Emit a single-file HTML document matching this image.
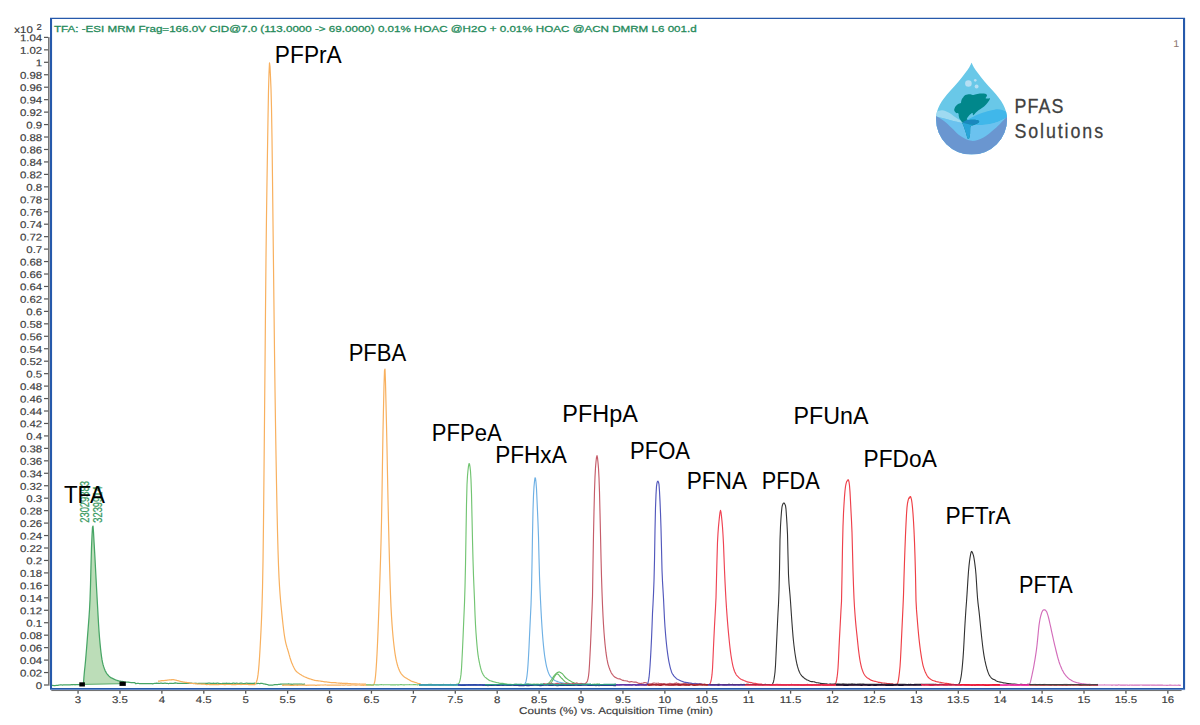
<!DOCTYPE html>
<html><head><meta charset="utf-8"><title>Chromatogram</title>
<style>html,body{margin:0;padding:0;background:#fff;overflow:hidden}svg{display:block}text{font-family:"Liberation Sans",sans-serif}</style></head>
<body><svg width="1200" height="725" viewBox="0 0 1200 725">
<rect x="0" y="0" width="1200" height="725" fill="#fff"/>
<rect x="48.0" y="37.2" width="1.65" height="648.4" fill="#777"/><rect x="49.6" y="37.2" width="0.5" height="648.4" fill="#b4b8c4"/>
<rect x="50" y="689.3" width="1135.1" height="0.8" fill="#6f9cd8"/><rect x="51.3" y="690.05" width="1130.3" height="1.0" fill="#6e6e6e"/>
<path d="M50 17.7H1185.1V689.4H50Z M52.07 19.1V687.9H1183V19.1Z" fill="#2659ab" fill-rule="evenodd"/>
<rect x="44" y="684.40" width="4.2" height="1.2" fill="#555"/>
<rect x="44" y="671.95" width="4.2" height="1.2" fill="#555"/>
<rect x="44" y="659.49" width="4.2" height="1.2" fill="#555"/>
<rect x="44" y="647.04" width="4.2" height="1.2" fill="#555"/>
<rect x="44" y="634.58" width="4.2" height="1.2" fill="#555"/>
<rect x="44" y="622.13" width="4.2" height="1.2" fill="#555"/>
<rect x="44" y="609.68" width="4.2" height="1.2" fill="#555"/>
<rect x="44" y="597.22" width="4.2" height="1.2" fill="#555"/>
<rect x="44" y="584.77" width="4.2" height="1.2" fill="#555"/>
<rect x="44" y="572.31" width="4.2" height="1.2" fill="#555"/>
<rect x="44" y="559.86" width="4.2" height="1.2" fill="#555"/>
<rect x="44" y="547.41" width="4.2" height="1.2" fill="#555"/>
<rect x="44" y="534.95" width="4.2" height="1.2" fill="#555"/>
<rect x="44" y="522.50" width="4.2" height="1.2" fill="#555"/>
<rect x="44" y="510.04" width="4.2" height="1.2" fill="#555"/>
<rect x="44" y="497.59" width="4.2" height="1.2" fill="#555"/>
<rect x="44" y="485.14" width="4.2" height="1.2" fill="#555"/>
<rect x="44" y="472.68" width="4.2" height="1.2" fill="#555"/>
<rect x="44" y="460.23" width="4.2" height="1.2" fill="#555"/>
<rect x="44" y="447.77" width="4.2" height="1.2" fill="#555"/>
<rect x="44" y="435.32" width="4.2" height="1.2" fill="#555"/>
<rect x="44" y="422.87" width="4.2" height="1.2" fill="#555"/>
<rect x="44" y="410.41" width="4.2" height="1.2" fill="#555"/>
<rect x="44" y="397.96" width="4.2" height="1.2" fill="#555"/>
<rect x="44" y="385.50" width="4.2" height="1.2" fill="#555"/>
<rect x="44" y="373.05" width="4.2" height="1.2" fill="#555"/>
<rect x="44" y="360.60" width="4.2" height="1.2" fill="#555"/>
<rect x="44" y="348.14" width="4.2" height="1.2" fill="#555"/>
<rect x="44" y="335.69" width="4.2" height="1.2" fill="#555"/>
<rect x="44" y="323.23" width="4.2" height="1.2" fill="#555"/>
<rect x="44" y="310.78" width="4.2" height="1.2" fill="#555"/>
<rect x="44" y="298.33" width="4.2" height="1.2" fill="#555"/>
<rect x="44" y="285.87" width="4.2" height="1.2" fill="#555"/>
<rect x="44" y="273.42" width="4.2" height="1.2" fill="#555"/>
<rect x="44" y="260.96" width="4.2" height="1.2" fill="#555"/>
<rect x="44" y="248.51" width="4.2" height="1.2" fill="#555"/>
<rect x="44" y="236.06" width="4.2" height="1.2" fill="#555"/>
<rect x="44" y="223.60" width="4.2" height="1.2" fill="#555"/>
<rect x="44" y="211.15" width="4.2" height="1.2" fill="#555"/>
<rect x="44" y="198.69" width="4.2" height="1.2" fill="#555"/>
<rect x="44" y="186.24" width="4.2" height="1.2" fill="#555"/>
<rect x="44" y="173.79" width="4.2" height="1.2" fill="#555"/>
<rect x="44" y="161.33" width="4.2" height="1.2" fill="#555"/>
<rect x="44" y="148.88" width="4.2" height="1.2" fill="#555"/>
<rect x="44" y="136.42" width="4.2" height="1.2" fill="#555"/>
<rect x="44" y="123.97" width="4.2" height="1.2" fill="#555"/>
<rect x="44" y="111.52" width="4.2" height="1.2" fill="#555"/>
<rect x="44" y="99.06" width="4.2" height="1.2" fill="#555"/>
<rect x="44" y="86.61" width="4.2" height="1.2" fill="#555"/>
<rect x="44" y="74.15" width="4.2" height="1.2" fill="#555"/>
<rect x="44" y="61.70" width="4.2" height="1.2" fill="#555"/>
<rect x="44" y="49.25" width="4.2" height="1.2" fill="#555"/>
<rect x="44" y="36.79" width="4.2" height="1.2" fill="#555"/>
<g font-size="9.8" fill="#3a3a3a" stroke="#3a3a3a" stroke-width="0.15"><text transform="translate(42.2 688.90) rotate(0.03) scale(1.17 1)" text-anchor="end">0</text><text transform="translate(42.2 676.45) rotate(0.03) scale(1.17 1)" text-anchor="end">0.02</text><text transform="translate(42.2 663.99) rotate(0.03) scale(1.17 1)" text-anchor="end">0.04</text><text transform="translate(42.2 651.54) rotate(0.03) scale(1.17 1)" text-anchor="end">0.06</text><text transform="translate(42.2 639.08) rotate(0.03) scale(1.17 1)" text-anchor="end">0.08</text><text transform="translate(42.2 626.63) rotate(0.03) scale(1.17 1)" text-anchor="end">0.1</text><text transform="translate(42.2 614.18) rotate(0.03) scale(1.17 1)" text-anchor="end">0.12</text><text transform="translate(42.2 601.72) rotate(0.03) scale(1.17 1)" text-anchor="end">0.14</text><text transform="translate(42.2 589.27) rotate(0.03) scale(1.17 1)" text-anchor="end">0.16</text><text transform="translate(42.2 576.81) rotate(0.03) scale(1.17 1)" text-anchor="end">0.18</text><text transform="translate(42.2 564.36) rotate(0.03) scale(1.17 1)" text-anchor="end">0.2</text><text transform="translate(42.2 551.91) rotate(0.03) scale(1.17 1)" text-anchor="end">0.22</text><text transform="translate(42.2 539.45) rotate(0.03) scale(1.17 1)" text-anchor="end">0.24</text><text transform="translate(42.2 527.00) rotate(0.03) scale(1.17 1)" text-anchor="end">0.26</text><text transform="translate(42.2 514.54) rotate(0.03) scale(1.17 1)" text-anchor="end">0.28</text><text transform="translate(42.2 502.09) rotate(0.03) scale(1.17 1)" text-anchor="end">0.3</text><text transform="translate(42.2 489.64) rotate(0.03) scale(1.17 1)" text-anchor="end">0.32</text><text transform="translate(42.2 477.18) rotate(0.03) scale(1.17 1)" text-anchor="end">0.34</text><text transform="translate(42.2 464.73) rotate(0.03) scale(1.17 1)" text-anchor="end">0.36</text><text transform="translate(42.2 452.27) rotate(0.03) scale(1.17 1)" text-anchor="end">0.38</text><text transform="translate(42.2 439.82) rotate(0.03) scale(1.17 1)" text-anchor="end">0.4</text><text transform="translate(42.2 427.37) rotate(0.03) scale(1.17 1)" text-anchor="end">0.42</text><text transform="translate(42.2 414.91) rotate(0.03) scale(1.17 1)" text-anchor="end">0.44</text><text transform="translate(42.2 402.46) rotate(0.03) scale(1.17 1)" text-anchor="end">0.46</text><text transform="translate(42.2 390.00) rotate(0.03) scale(1.17 1)" text-anchor="end">0.48</text><text transform="translate(42.2 377.55) rotate(0.03) scale(1.17 1)" text-anchor="end">0.5</text><text transform="translate(42.2 365.10) rotate(0.03) scale(1.17 1)" text-anchor="end">0.52</text><text transform="translate(42.2 352.64) rotate(0.03) scale(1.17 1)" text-anchor="end">0.54</text><text transform="translate(42.2 340.19) rotate(0.03) scale(1.17 1)" text-anchor="end">0.56</text><text transform="translate(42.2 327.73) rotate(0.03) scale(1.17 1)" text-anchor="end">0.58</text><text transform="translate(42.2 315.28) rotate(0.03) scale(1.17 1)" text-anchor="end">0.6</text><text transform="translate(42.2 302.83) rotate(0.03) scale(1.17 1)" text-anchor="end">0.62</text><text transform="translate(42.2 290.37) rotate(0.03) scale(1.17 1)" text-anchor="end">0.64</text><text transform="translate(42.2 277.92) rotate(0.03) scale(1.17 1)" text-anchor="end">0.66</text><text transform="translate(42.2 265.46) rotate(0.03) scale(1.17 1)" text-anchor="end">0.68</text><text transform="translate(42.2 253.01) rotate(0.03) scale(1.17 1)" text-anchor="end">0.7</text><text transform="translate(42.2 240.56) rotate(0.03) scale(1.17 1)" text-anchor="end">0.72</text><text transform="translate(42.2 228.10) rotate(0.03) scale(1.17 1)" text-anchor="end">0.74</text><text transform="translate(42.2 215.65) rotate(0.03) scale(1.17 1)" text-anchor="end">0.76</text><text transform="translate(42.2 203.19) rotate(0.03) scale(1.17 1)" text-anchor="end">0.78</text><text transform="translate(42.2 190.74) rotate(0.03) scale(1.17 1)" text-anchor="end">0.8</text><text transform="translate(42.2 178.29) rotate(0.03) scale(1.17 1)" text-anchor="end">0.82</text><text transform="translate(42.2 165.83) rotate(0.03) scale(1.17 1)" text-anchor="end">0.84</text><text transform="translate(42.2 153.38) rotate(0.03) scale(1.17 1)" text-anchor="end">0.86</text><text transform="translate(42.2 140.92) rotate(0.03) scale(1.17 1)" text-anchor="end">0.88</text><text transform="translate(42.2 128.47) rotate(0.03) scale(1.17 1)" text-anchor="end">0.9</text><text transform="translate(42.2 116.02) rotate(0.03) scale(1.17 1)" text-anchor="end">0.92</text><text transform="translate(42.2 103.56) rotate(0.03) scale(1.17 1)" text-anchor="end">0.94</text><text transform="translate(42.2 91.11) rotate(0.03) scale(1.17 1)" text-anchor="end">0.96</text><text transform="translate(42.2 78.65) rotate(0.03) scale(1.17 1)" text-anchor="end">0.98</text><text transform="translate(42.2 66.20) rotate(0.03) scale(1.17 1)" text-anchor="end">1</text><text transform="translate(42.2 53.75) rotate(0.03) scale(1.17 1)" text-anchor="end">1.02</text><text transform="translate(42.2 41.29) rotate(0.03) scale(1.17 1)" text-anchor="end">1.04</text></g>
<text transform="translate(14.3 33) rotate(0.03) scale(1.17 1)" font-size="9.8" fill="#3a3a3a" stroke="#3a3a3a" stroke-width="0.15">x10</text>
<text transform="translate(36.5 30.1) rotate(0.03) scale(1.1 1)" font-size="8.6" fill="#3a3a3a" stroke="#3a3a3a" stroke-width="0.15">2</text>
<rect x="77.40" y="690.8" width="1.3" height="2.9" fill="#555"/>
<rect x="119.31" y="690.8" width="1.3" height="2.9" fill="#555"/>
<rect x="161.23" y="690.8" width="1.3" height="2.9" fill="#555"/>
<rect x="203.15" y="690.8" width="1.3" height="2.9" fill="#555"/>
<rect x="245.06" y="690.8" width="1.3" height="2.9" fill="#555"/>
<rect x="286.97" y="690.8" width="1.3" height="2.9" fill="#555"/>
<rect x="328.89" y="690.8" width="1.3" height="2.9" fill="#555"/>
<rect x="370.80" y="690.8" width="1.3" height="2.9" fill="#555"/>
<rect x="412.72" y="690.8" width="1.3" height="2.9" fill="#555"/>
<rect x="454.63" y="690.8" width="1.3" height="2.9" fill="#555"/>
<rect x="496.55" y="690.8" width="1.3" height="2.9" fill="#555"/>
<rect x="538.47" y="690.8" width="1.3" height="2.9" fill="#555"/>
<rect x="580.38" y="690.8" width="1.3" height="2.9" fill="#555"/>
<rect x="622.29" y="690.8" width="1.3" height="2.9" fill="#555"/>
<rect x="664.21" y="690.8" width="1.3" height="2.9" fill="#555"/>
<rect x="706.12" y="690.8" width="1.3" height="2.9" fill="#555"/>
<rect x="748.04" y="690.8" width="1.3" height="2.9" fill="#555"/>
<rect x="789.95" y="690.8" width="1.3" height="2.9" fill="#555"/>
<rect x="831.87" y="690.8" width="1.3" height="2.9" fill="#555"/>
<rect x="873.78" y="690.8" width="1.3" height="2.9" fill="#555"/>
<rect x="915.70" y="690.8" width="1.3" height="2.9" fill="#555"/>
<rect x="957.62" y="690.8" width="1.3" height="2.9" fill="#555"/>
<rect x="999.53" y="690.8" width="1.3" height="2.9" fill="#555"/>
<rect x="1041.45" y="690.8" width="1.3" height="2.9" fill="#555"/>
<rect x="1083.36" y="690.8" width="1.3" height="2.9" fill="#555"/>
<rect x="1125.28" y="690.8" width="1.3" height="2.9" fill="#555"/>
<rect x="1167.19" y="690.8" width="1.3" height="2.9" fill="#555"/>
<g font-size="9.8" fill="#3a3a3a" stroke="#3a3a3a" stroke-width="0.15"><text transform="translate(78.00 703.0) rotate(0.03) scale(1.17 1)" text-anchor="middle">3</text><text transform="translate(119.91 703.0) rotate(0.03) scale(1.17 1)" text-anchor="middle">3.5</text><text transform="translate(161.83 703.0) rotate(0.03) scale(1.17 1)" text-anchor="middle">4</text><text transform="translate(203.75 703.0) rotate(0.03) scale(1.17 1)" text-anchor="middle">4.5</text><text transform="translate(245.66 703.0) rotate(0.03) scale(1.17 1)" text-anchor="middle">5</text><text transform="translate(287.57 703.0) rotate(0.03) scale(1.17 1)" text-anchor="middle">5.5</text><text transform="translate(329.49 703.0) rotate(0.03) scale(1.17 1)" text-anchor="middle">6</text><text transform="translate(371.40 703.0) rotate(0.03) scale(1.17 1)" text-anchor="middle">6.5</text><text transform="translate(413.32 703.0) rotate(0.03) scale(1.17 1)" text-anchor="middle">7</text><text transform="translate(455.24 703.0) rotate(0.03) scale(1.17 1)" text-anchor="middle">7.5</text><text transform="translate(497.15 703.0) rotate(0.03) scale(1.17 1)" text-anchor="middle">8</text><text transform="translate(539.07 703.0) rotate(0.03) scale(1.17 1)" text-anchor="middle">8.5</text><text transform="translate(580.98 703.0) rotate(0.03) scale(1.17 1)" text-anchor="middle">9</text><text transform="translate(622.89 703.0) rotate(0.03) scale(1.17 1)" text-anchor="middle">9.5</text><text transform="translate(664.81 703.0) rotate(0.03) scale(1.17 1)" text-anchor="middle">10</text><text transform="translate(706.73 703.0) rotate(0.03) scale(1.17 1)" text-anchor="middle">10.5</text><text transform="translate(748.64 703.0) rotate(0.03) scale(1.17 1)" text-anchor="middle">11</text><text transform="translate(790.55 703.0) rotate(0.03) scale(1.17 1)" text-anchor="middle">11.5</text><text transform="translate(832.47 703.0) rotate(0.03) scale(1.17 1)" text-anchor="middle">12</text><text transform="translate(874.38 703.0) rotate(0.03) scale(1.17 1)" text-anchor="middle">12.5</text><text transform="translate(916.30 703.0) rotate(0.03) scale(1.17 1)" text-anchor="middle">13</text><text transform="translate(958.22 703.0) rotate(0.03) scale(1.17 1)" text-anchor="middle">13.5</text><text transform="translate(1000.13 703.0) rotate(0.03) scale(1.17 1)" text-anchor="middle">14</text><text transform="translate(1042.05 703.0) rotate(0.03) scale(1.17 1)" text-anchor="middle">14.5</text><text transform="translate(1083.96 703.0) rotate(0.03) scale(1.17 1)" text-anchor="middle">15</text><text transform="translate(1125.88 703.0) rotate(0.03) scale(1.17 1)" text-anchor="middle">15.5</text><text transform="translate(1167.79 703.0) rotate(0.03) scale(1.17 1)" text-anchor="middle">16</text></g>
<text transform="translate(519 714) rotate(0.03)" font-size="9.8" fill="#3a3a3a" stroke="#3a3a3a" stroke-width="0.15" textLength="194" lengthAdjust="spacingAndGlyphs">Counts (%) vs. Acquisition Time (min)</text>
<text transform="translate(54.0 32.0) rotate(0.02)" font-size="9.9" fill="#258a5a" stroke="#258a5a" stroke-width="0.3" textLength="642.7" lengthAdjust="spacingAndGlyphs">TFA: -ESI MRM Frag=166.0V CID@7.0 (113.0000 -&gt; 69.0000) 0.01% HOAC @H2O + 0.01% HOAC @ACN DMRM L6 001.d</text>
<text transform="translate(1173.2 47.1) rotate(0.03) scale(1.1 1)" font-size="9.8" fill="#8d766e">1</text>
<g font-size="9.3" fill="#3a9a62" stroke="#3a9a62" stroke-width="0.2"><text transform="translate(88.9 522.8) rotate(-90) scale(1 1.3)" textLength="41.8" lengthAdjust="spacingAndGlyphs">23029383</text><text transform="translate(102.2 522.8) rotate(-90) scale(1 1.3)" textLength="36.5" lengthAdjust="spacingAndGlyphs">3239914</text></g>
<path d="M82.5 684.2L83.0 684.2L83.5 683.3L84.0 676.2L84.5 670.8L85.0 666.3L85.5 661.1L86.0 655.3L86.5 649.3L87.0 643.1L87.5 636.5L88.0 630.2L88.5 623.9L89.0 617.3L89.5 609.7L90.0 599.9L90.5 584.9L91.0 565.2L91.5 547.4L92.0 535.9L92.5 527.2L93.0 526.1L93.5 532.3L94.0 541.4L94.5 549.8L95.0 558.8L95.5 568.3L96.0 577.8L96.5 587.2L97.0 596.3L97.5 605.2L98.0 614.4L98.5 623.3L99.0 631.0L99.5 637.5L100.0 643.1L100.5 648.1L101.0 652.5L101.5 656.5L102.0 659.7L102.5 662.3L103.0 664.4L103.5 666.2L104.0 667.6L104.5 669.0L105.0 670.3L105.5 671.4L106.0 672.2L106.5 673.1L107.0 673.8L107.5 674.4L108.0 675.0L108.5 675.5L109.0 676.1L109.5 676.6L110.0 677.0L110.5 677.4L111.0 677.8L111.5 677.9L112.0 678.1L112.5 678.4L113.0 678.6L113.5 678.9L114.0 679.1L114.5 679.4L115.0 679.5L115.5 679.9L116.0 680.0L116.5 680.2L117.0 680.3L117.5 680.6L118.0 680.7L118.5 680.8L119.0 681.0L119.5 681.0L120.0 681.1L120.5 681.2L121.0 681.3L121.5 681.4L122.0 681.5L122.5 681.4L122.5 683.8L82.5 684.5Z" fill="#bcddb8" stroke="none"/>
<path d="M82.5 684.4L122.5 683.7" stroke="#5aad6a" stroke-width="1" fill="none"/>
<path d="M52.0 685.5L52.5 685.4L53.0 685.4L53.5 685.5L54.0 685.5L54.5 685.5L55.0 685.5L55.5 685.5L56.0 685.4L56.5 685.4L57.0 685.4L57.5 685.4L58.0 685.3L58.5 685.2L59.0 685.1L59.5 685.0L60.0 684.9L60.5 684.9L61.0 684.8L61.5 684.9L62.0 685.0L62.5 685.1L63.0 684.9L63.5 684.9L64.0 684.9L64.5 684.9L65.0 684.8L65.5 684.9L66.0 684.8L66.5 684.8L67.0 684.8L67.5 684.8L68.0 684.8L68.5 684.9L69.0 684.9L69.5 684.8L70.0 684.8L70.5 684.8L71.0 684.7L71.5 684.7L72.0 684.8L72.5 684.6L73.0 684.7L73.5 684.7L74.0 684.7L74.5 684.7L75.0 684.8L75.5 684.6L76.0 684.6L76.5 684.7L77.0 684.5L77.5 684.5L78.0 684.5L78.5 684.5L79.0 684.6L79.5 684.5L80.0 684.5L80.5 684.4L81.0 684.4L81.5 684.2L82.0 684.2L82.5 684.2L83.0 684.2L83.5 683.3L84.0 676.2L84.5 670.8L85.0 666.3L85.5 661.1L86.0 655.3L86.5 649.3L87.0 643.1L87.5 636.5L88.0 630.2L88.5 623.9L89.0 617.3L89.5 609.7L90.0 599.9L90.5 584.9L91.0 565.2L91.5 547.4L92.0 535.9L92.5 527.2L93.0 526.1L93.5 532.3L94.0 541.4L94.5 549.8L95.0 558.8L95.5 568.3L96.0 577.8L96.5 587.2L97.0 596.3L97.5 605.2L98.0 614.4L98.5 623.3L99.0 631.0L99.5 637.5L100.0 643.1L100.5 648.1L101.0 652.5L101.5 656.5L102.0 659.7L102.5 662.3L103.0 664.4L103.5 666.2L104.0 667.6L104.5 669.0L105.0 670.3L105.5 671.4L106.0 672.2L106.5 673.1L107.0 673.8L107.5 674.4L108.0 675.0L108.5 675.5L109.0 676.1L109.5 676.6L110.0 677.0L110.5 677.4L111.0 677.8L111.5 677.9L112.0 678.1L112.5 678.4L113.0 678.6L113.5 678.9L114.0 679.1L114.5 679.4L115.0 679.5L115.5 679.9L116.0 680.0L116.5 680.2L117.0 680.3L117.5 680.6L118.0 680.7L118.5 680.8L119.0 681.0L119.5 681.0L120.0 681.1L120.5 681.2L121.0 681.3L121.5 681.4L122.0 681.5L122.5 681.4L123.0 681.6L123.5 681.7L124.0 681.9L124.5 682.0L125.0 682.1L125.5 682.1L126.0 682.1L126.5 682.1L127.0 682.1L127.5 682.2L128.0 682.2L128.5 682.2L129.0 682.4L129.5 682.4L130.0 682.4L130.5 682.5L131.0 682.7L131.5 682.6L132.0 682.6L132.5 682.7L133.0 682.6L133.5 682.6L134.0 682.7L134.5 682.7L135.0 682.7L135.5 683.6L136.0 683.5L136.5 683.5L137.0 683.4L137.5 683.4L138.0 683.4L138.5 683.4L139.0 683.5L139.5 683.5L140.0 683.6L140.5 683.5L141.0 683.5L141.5 683.5L142.0 683.5L142.5 683.5L143.0 683.6L143.5 683.6L144.0 683.6L144.5 683.6L145.0 683.5L145.5 683.5L146.0 683.5L146.5 683.5L147.0 683.5L147.5 683.7L148.0 683.7L148.5 683.7L149.0 683.6L149.5 683.7L150.0 683.6L150.5 683.6L151.0 683.5L151.5 683.6L152.0 683.6L152.5 683.8L153.0 683.7L153.5 683.5L154.0 683.5L154.5 683.4L155.0 683.3L155.5 683.4L156.0 683.4L156.5 683.2L157.0 683.3L157.5 683.3L158.0 683.2L158.5 683.3L159.0 683.4L159.5 683.3L160.0 683.3L160.5 683.2L161.0 683.1L161.5 683.2L162.0 683.3L162.5 683.3L163.0 683.3L163.5 683.4L164.0 683.3L164.5 683.2L165.0 683.2L165.5 683.2L166.0 683.3L166.5 683.4L167.0 683.5L167.5 683.4L168.0 683.5L168.5 683.5L169.0 683.5L169.5 683.3L170.0 683.3L170.5 683.3L171.0 683.3L171.5 683.3L172.0 683.4L172.5 683.5L173.0 683.4L173.5 683.3L174.0 683.3L174.5 683.2L175.0 682.9L175.5 682.9L176.0 683.1L176.5 683.1L177.0 683.2L177.5 683.3L178.0 683.4L178.5 683.3L179.0 683.3L179.5 683.4L180.0 683.4L180.5 683.4L181.0 683.4L181.5 683.4L182.0 683.4L182.5 683.4L183.0 683.3L183.5 683.3L184.0 683.2L184.5 683.3L185.0 683.3L185.5 683.2L186.0 683.3L186.5 683.4L187.0 683.4L187.5 683.4L188.0 683.5L188.5 683.3L189.0 683.2L189.5 683.2L190.0 683.2L190.5 683.1L191.0 683.2L191.5 683.2L192.0 683.3L192.5 683.3L193.0 683.4L193.5 683.5L194.0 683.5L194.5 683.4L195.0 683.2L195.5 683.3L196.0 683.3L196.5 683.4L197.0 683.4L197.5 683.6L198.0 683.5L198.5 683.4L199.0 683.3L199.5 683.3L200.0 683.4L200.5 683.4L201.0 683.4L201.5 683.4L202.0 683.4L202.5 683.4L203.0 683.4L203.5 683.4L204.0 683.4L204.5 683.4L205.0 683.3L205.5 683.3L206.0 683.3L206.5 683.3L207.0 683.3L207.5 683.3L208.0 683.2L208.5 683.2L209.0 683.2L209.5 683.2L210.0 683.2L210.5 683.3L211.0 683.4L211.5 683.4L212.0 683.4L212.5 683.4L213.0 683.4L213.5 683.2L214.0 683.3L214.5 683.4L215.0 683.4L215.5 683.4L216.0 683.4L216.5 683.4L217.0 683.2L217.5 683.2L218.0 683.2L218.5 683.3L219.0 683.3L219.5 683.5L220.0 683.5L220.5 683.5L221.0 683.7L221.5 683.6L222.0 683.5L222.5 683.4L223.0 683.3L223.5 683.3L224.0 683.4L224.5 683.4L225.0 683.4L225.5 683.4L226.0 683.3L226.5 683.2L227.0 683.3L227.5 683.4L228.0 683.4L228.5 683.4L229.0 683.4L229.5 683.4L230.0 683.4L230.5 683.5L231.0 683.5L231.5 683.5L232.0 683.4L232.5 683.4L233.0 683.2L233.5 683.1L234.0 683.2L234.5 683.3L235.0 683.3L235.5 683.3L236.0 683.3L236.5 683.2L237.0 683.2L237.5 683.4L238.0 683.5L238.5 683.5L239.0 683.4L239.5 683.4L240.0 683.3L240.5 683.2L241.0 683.2L241.5 683.2L242.0 683.3L242.5 683.4L243.0 683.5L243.5 683.5L244.0 683.6L244.5 683.5L245.0 683.4L245.5 683.3L246.0 683.3L246.5 683.2L247.0 683.2L247.5 683.3L248.0 683.3L248.5 683.4L249.0 683.4L249.5 683.3L250.0 683.3L250.5 683.3L251.0 683.3L251.5 683.4L252.0 683.5L252.5 683.4L253.0 683.3L253.5 683.4L254.0 683.4L254.5 683.2L255.0 683.4L255.5 683.5L256.0 683.5L256.5 683.5L257.0 683.6L257.5 683.4L258.0 683.5L258.5 683.4L259.0 683.5L259.5 683.5L260.0 683.6L260.5 683.4L261.0 683.3L261.5 683.3L262.0 683.3L262.5 683.5L263.0 683.7L263.5 683.8L264.0 683.8L264.5 684.0L265.0 684.1L265.5 684.1L266.0 684.3L266.5 684.4L267.0 684.5L267.5 684.6L268.0 684.7L268.5 685.0L269.0 685.0L269.5 685.2L270.0 685.2L270.5 685.0L271.0 685.0L271.5 685.0L272.0 685.0L272.5 685.0L273.0 685.0L273.5 684.9L274.0 684.8L274.5 684.7L275.0 684.7L275.5 684.7L276.0 684.7L276.5 684.6L277.0 684.5L277.5 684.5L278.0 684.5L278.5 684.4L279.0 684.4L279.5 684.3L280.0 684.3L280.5 684.1L281.0 684.0L281.5 684.0L282.0 684.1L282.5 684.0L283.0 684.0L283.5 684.1L284.0 684.0L284.5 684.0L285.0 684.0L285.5 684.0L286.0 684.1L286.5 684.1L287.0 684.1L287.5 684.1L288.0 684.1L288.5 683.9L289.0 684.1L289.5 684.1L290.0 684.1L290.5 684.2L291.0 684.3L291.5 684.2L292.0 684.3L292.5 684.3L293.0 684.2L293.5 684.1L294.0 684.0L294.5 684.0L295.0 684.1L295.5 684.1L296.0 684.1L296.5 684.1L297.0 684.2L297.5 684.0L298.0 684.0L298.5 684.1L299.0 684.1L299.5 684.0L300.0 684.1L300.5 684.1L301.0 684.1L301.5 684.1L302.0 684.2L302.5 684.3L303.0 684.3L303.5 684.3L304.0 684.2L304.5 684.2L305.0 684.2" fill="none" stroke="#47a565" stroke-width="1.25" stroke-linejoin="round"/>
<path d="M158.0 681.2L158.5 681.2L159.0 681.1L159.5 681.1L160.0 681.0L160.5 680.8L161.0 680.8L161.5 680.7L162.0 680.7L162.5 680.7L163.0 680.7L163.5 680.6L164.0 680.6L164.5 680.5L165.0 680.4L165.5 680.4L166.0 680.3L166.5 680.3L167.0 680.2L167.5 680.2L168.0 680.1L168.5 680.0L169.0 679.9L169.5 679.8L170.0 679.8L170.5 679.8L171.0 679.8L171.5 679.7L172.0 679.8L172.5 679.7L173.0 679.7L173.5 679.7L174.0 679.8L174.5 679.8L175.0 680.0L175.5 680.1L176.0 680.2L176.5 680.3L177.0 680.5L177.5 680.6L178.0 680.7L178.5 680.8L179.0 681.0L179.5 681.1L180.0 681.3L180.5 681.4L181.0 681.5L181.5 681.6L182.0 681.7L182.5 681.8L183.0 681.9L183.5 682.0L184.0 682.1L184.5 682.2L185.0 682.3L185.5 682.4L186.0 682.4L186.5 682.4L187.0 682.5L187.5 682.6L188.0 682.6L188.5 682.6L189.0 682.9L189.5 682.9L190.0 683.0L190.5 683.2L191.0 683.4L191.5 683.4L192.0 683.5L192.5 683.5L193.0 683.4L193.5 683.4L194.0 683.5L194.5 683.6L195.0 683.7L195.5 683.8L196.0 683.8L196.5 683.8L197.0 683.9L197.5 683.9L198.0 684.0L198.5 684.0L199.0 684.1L199.5 684.0L200.0 684.0L200.5 684.0L201.0 684.1L201.5 684.1L202.0 684.1L202.5 684.2L203.0 684.1L203.5 684.1L204.0 684.1L204.5 684.1L205.0 684.2L205.5 684.5L206.0 684.5L206.5 684.6L207.0 684.6L207.5 684.5L208.0 684.5L208.5 684.5L209.0 684.5L209.5 684.6L210.0 684.7L210.5 684.7L211.0 684.7L211.5 684.7L212.0 684.6L212.5 684.6L213.0 684.6L213.5 684.7L214.0 684.6L214.5 684.6L215.0 684.6L215.5 684.7L216.0 684.6L216.5 684.6L217.0 684.6L217.5 684.6L218.0 684.5L218.5 684.6L219.0 684.6L219.5 684.5L220.0 684.5L220.5 684.5L221.0 684.5L221.5 684.4L222.0 684.5L222.5 684.5L223.0 684.5L223.5 684.5L224.0 684.6L224.5 684.6L225.0 684.6L225.5 684.6L226.0 684.5L226.5 684.5L227.0 684.5L227.5 684.5L228.0 684.5L228.5 684.5L229.0 684.5L229.5 684.5L230.0 684.5L230.5 684.5L231.0 684.5L231.5 684.6L232.0 684.6L232.5 684.7L233.0 684.7L233.5 684.7L234.0 684.7L234.5 684.7L235.0 684.6L235.5 684.6L236.0 684.6L236.5 684.5L237.0 684.4L237.5 684.4L238.0 684.4L238.5 684.4L239.0 684.4L239.5 684.5L240.0 684.5L240.5 684.5L241.0 684.6L241.5 684.5L242.0 684.5L242.5 684.4L243.0 684.5L243.5 684.5L244.0 684.5L244.5 684.5L245.0 684.5L245.5 684.5L246.0 684.4L246.5 684.4L247.0 684.4L247.5 684.5L248.0 684.5L248.5 684.6L249.0 684.6L249.5 684.7L250.0 684.6L250.5 684.6L251.0 684.6L251.5 684.6L252.0 684.6L252.5 684.6L253.0 684.6L253.5 684.7L254.0 684.7L254.5 684.7L255.0 684.6L255.5 683.6L256.0 682.9L256.5 681.8L257.0 680.3L257.5 678.1L258.0 674.9L258.5 670.6L259.0 664.9L259.5 657.9L260.0 649.6L260.5 640.5L261.0 630.6L261.5 619.6L262.0 606.1L262.5 588.2L263.0 562.0L263.5 522.8L264.0 472.2L264.5 420.1L265.0 366.4L265.5 310.1L266.0 257.8L266.5 216.1L267.0 181.3L267.5 149.9L268.0 118.5L268.5 90.6L269.0 73.2L269.5 62.9L270.0 66.6L270.5 77.0L271.0 88.8L271.5 107.9L272.0 138.4L272.5 178.9L273.0 223.0L273.5 266.0L274.0 309.5L274.5 351.4L275.0 389.8L275.5 423.9L276.0 454.4L276.5 483.1L277.0 508.8L277.5 531.2L278.0 550.0L278.5 565.2L279.0 577.1L279.5 586.1L280.0 593.5L280.5 599.8L281.0 605.3L281.5 610.2L282.0 615.1L282.5 619.9L283.0 624.5L283.5 628.7L284.0 632.7L284.5 636.1L285.0 639.1L285.5 641.6L286.0 643.8L286.5 645.6L287.0 647.4L287.5 649.0L288.0 650.7L288.5 652.3L289.0 654.2L289.5 655.9L290.0 657.7L290.5 659.3L291.0 660.8L291.5 662.2L292.0 663.6L292.5 664.6L293.0 665.8L293.5 666.8L294.0 667.8L294.5 668.7L295.0 669.6L295.5 670.4L296.0 671.0L296.5 671.5L297.0 672.0L297.5 672.4L298.0 672.7L298.5 673.1L299.0 673.5L299.5 673.8L300.0 674.2L300.5 674.5L301.0 674.8L301.5 675.1L302.0 675.5L302.5 675.7L303.0 676.0L303.5 676.3L304.0 676.6L304.5 676.8L305.0 677.0L305.5 677.2L306.0 677.4L306.5 677.6L307.0 677.8L307.5 678.1L308.0 678.3L308.5 678.4L309.0 678.6L309.5 678.8L310.0 678.9L310.5 679.0L311.0 679.2L311.5 679.4L312.0 679.6L312.5 679.7L313.0 679.8L313.5 680.0L314.0 680.2L314.5 680.3L315.0 680.4L315.5 680.5L316.0 680.6L316.5 680.5L317.0 680.6L317.5 680.7L318.0 680.8L318.5 680.8L319.0 680.9L319.5 681.0L320.0 681.0L320.5 681.1L321.0 681.2L321.5 681.3L322.0 681.3L322.5 681.4L323.0 681.5L323.5 681.6L324.0 681.7L324.5 681.8L325.0 681.9L325.5 681.9L326.0 681.9L326.5 681.9L327.0 682.0L327.5 682.1L328.0 682.2L328.5 682.2L329.0 682.4L329.5 682.3L330.0 682.4L330.5 682.5L331.0 682.6L331.5 682.5L332.0 682.6L332.5 682.7L333.0 682.7L333.5 682.7L334.0 682.7L334.5 682.7L335.0 682.7L335.5 682.7L336.0 682.8L336.5 682.9L337.0 683.0L337.5 683.0L338.0 683.0L338.5 683.1L339.0 683.2L339.5 683.2L340.0 683.2L340.5 683.3L341.0 683.2L341.5 683.2L342.0 683.3L342.5 683.3L343.0 683.3L343.5 683.3L344.0 683.3L344.5 683.4L345.0 683.4L345.5 683.4L346.0 683.4L346.5 683.4L347.0 683.4L347.5 683.4L348.0 683.5L348.5 683.5L349.0 683.5L349.5 683.5L350.0 683.6L350.5 683.7L351.0 683.8L351.5 683.8L352.0 683.9L352.5 683.9L353.0 683.8L353.5 683.9L354.0 683.8L354.5 683.9L355.0 683.9L355.5 683.9L356.0 683.9L356.5 684.0L357.0 683.9L357.5 684.0L358.0 684.0L358.5 684.0L359.0 684.0L359.5 683.9L360.0 684.0L360.5 684.0L361.0 684.0L361.5 684.0L362.0 684.2L362.5 684.1L363.0 684.1L363.5 684.1L364.0 684.1L364.5 684.1L365.0 684.1L365.5 684.1L366.0 684.1" fill="none" stroke="#f8b05e" stroke-width="1.2" stroke-linejoin="round"/>
<path d="M282.0 685.2L282.5 685.2L283.0 685.3L283.5 685.3L284.0 685.2L284.5 685.2L285.0 685.2L285.5 685.2L286.0 685.1L286.5 685.2L287.0 685.2L287.5 685.1L288.0 685.1L288.5 685.2L289.0 685.2L289.5 685.2L290.0 685.3L290.5 685.3L291.0 685.4L291.5 685.3L292.0 685.3L292.5 685.3L293.0 685.3L293.5 685.3L294.0 685.3L294.5 685.2L295.0 685.2L295.5 685.2L296.0 685.2L296.5 685.2L297.0 685.3L297.5 685.3L298.0 685.2L298.5 685.2L299.0 685.2L299.5 685.2L300.0 685.1L300.5 685.1L301.0 685.1L301.5 685.2L302.0 685.1L302.5 685.1L303.0 685.1L303.5 685.0L304.0 685.1L304.5 685.1L305.0 685.1L305.5 685.2L306.0 685.3L306.5 685.3L307.0 685.2L307.5 685.2L308.0 685.3L308.5 685.2L309.0 685.2L309.5 685.2L310.0 685.2L310.5 685.1L311.0 685.2L311.5 685.1L312.0 685.2L312.5 685.1L313.0 685.2L313.5 685.2L314.0 685.2L314.5 685.2L315.0 685.2L315.5 685.3L316.0 685.3L316.5 685.3L317.0 685.2L317.5 685.2L318.0 685.2L318.5 685.1L319.0 685.1L319.5 685.1L320.0 685.1L320.5 685.0L321.0 685.0L321.5 685.0L322.0 685.0L322.5 685.0L323.0 685.1L323.5 685.0L324.0 685.0L324.5 685.0L325.0 684.9L325.5 684.9L326.0 685.0L326.5 685.0L327.0 685.1L327.5 685.1L328.0 685.1L328.5 685.1L329.0 685.1L329.5 685.1L330.0 685.2L330.5 685.2L331.0 685.2L331.5 685.2L332.0 685.2L332.5 685.1L333.0 685.1L333.5 685.1L334.0 685.2L334.5 685.1L335.0 685.1L335.5 685.1L336.0 685.1L336.5 685.0L337.0 685.1L337.5 685.1L338.0 685.0L338.5 685.1L339.0 685.2L339.5 685.2L340.0 685.2L340.5 685.2L341.0 685.1L341.5 685.0L342.0 685.0L342.5 685.1L343.0 685.2L343.5 685.1L344.0 685.1L344.5 685.1L345.0 685.0L345.5 684.9L346.0 684.9L346.5 685.0L347.0 685.0L347.5 685.1L348.0 685.2L348.5 685.2L349.0 685.2L349.5 685.2L350.0 685.1L350.5 685.1L351.0 685.1L351.5 685.0L352.0 685.0L352.5 685.0L353.0 685.0L353.5 685.0L354.0 685.0L354.5 685.0L355.0 685.1L355.5 685.1L356.0 685.1L356.5 685.1L357.0 685.1L357.5 685.0L358.0 685.0L358.5 685.0L359.0 685.0L359.5 685.0L360.0 685.1L360.5 685.1L361.0 685.0L361.5 685.2L362.0 685.3L362.5 685.2L363.0 685.2L363.5 685.3L364.0 685.2L364.5 685.2L365.0 685.2L365.5 685.2L366.0 685.1L366.5 685.0L367.0 685.1L367.5 685.0L368.0 685.0L368.5 685.0L369.0 685.0L369.5 685.0L370.0 685.0L370.5 685.0L371.0 685.1L371.5 685.1L372.0 685.1L372.5 685.2L373.0 685.1L373.5 685.1L374.0 684.0L374.5 682.6L375.0 680.3L375.5 676.3L376.0 670.5L376.5 663.1L377.0 654.3L377.5 643.8L378.0 631.9L378.5 618.9L379.0 605.0L379.5 590.7L380.0 576.1L380.5 560.6L381.0 543.1L381.5 521.8L382.0 493.9L382.5 461.2L383.0 430.4L383.5 407.4L384.0 385.7L384.5 370.5L385.0 369.0L385.5 382.7L386.0 403.8L386.5 424.9L387.0 448.6L387.5 474.5L388.0 499.7L388.5 522.5L389.0 542.9L389.5 562.4L390.0 579.8L390.5 594.6L391.0 606.7L391.5 616.1L392.0 623.9L392.5 630.5L393.0 636.2L393.5 641.2L394.0 645.7L394.5 649.7L395.0 653.3L395.5 656.4L396.0 659.1L396.5 661.4L397.0 663.4L397.5 665.3L398.0 666.9L398.5 668.3L399.0 669.6L399.5 670.8L400.0 671.7L400.5 672.6L401.0 673.4L401.5 674.1L402.0 674.7L402.5 675.3L403.0 675.8L403.5 676.2L404.0 676.7L404.5 677.1L405.0 677.4L405.5 677.7L406.0 678.0L406.5 678.3L407.0 678.6L407.5 678.8L408.0 679.2L408.5 679.5L409.0 679.8L409.5 680.1L410.0 680.4L410.5 680.6L411.0 680.9L411.5 681.2L412.0 681.4L412.5 681.6L413.0 681.7L413.5 681.8L414.0 682.0L414.5 682.2L415.0 682.3L415.5 682.5L416.0 682.6L416.5 682.8L417.0 683.0L417.5 683.2L418.0 683.4L418.5 683.5L419.0 683.6L419.5 683.7L420.0 683.8L420.5 684.0L421.0 684.1" fill="none" stroke="#f8b05e" stroke-width="1.2" stroke-linejoin="round"/>
<path d="M366.0 684.7L366.5 684.7L367.0 684.8L367.5 684.9L368.0 684.8L368.5 684.8L369.0 684.8L369.5 684.8L370.0 684.8L370.5 684.8L371.0 684.9L371.5 685.0L372.0 685.0L372.5 685.0L373.0 684.9L373.5 684.9L374.0 684.8L374.5 684.7L375.0 684.7L375.5 684.8L376.0 684.8L376.5 684.8L377.0 684.8L377.5 684.8L378.0 684.9L378.5 685.0L379.0 684.9L379.5 684.8L380.0 684.7L380.5 684.7L381.0 684.6L381.5 684.6L382.0 684.7L382.5 684.7L383.0 684.7L383.5 684.8L384.0 684.8L384.5 684.7L385.0 684.7L385.5 684.8L386.0 684.7L386.5 684.7L387.0 684.8L387.5 684.7L388.0 684.7L388.5 684.8L389.0 684.7L389.5 684.7L390.0 684.8L390.5 684.9L391.0 684.8L391.5 684.9L392.0 684.9L392.5 684.9L393.0 684.8L393.5 684.9L394.0 684.9L394.5 684.9L395.0 684.8L395.5 684.8L396.0 684.8L396.5 684.7L397.0 684.8L397.5 684.8L398.0 684.9L398.5 684.9L399.0 684.9L399.5 684.8L400.0 684.7L400.5 684.6L401.0 684.6L401.5 684.6L402.0 684.7L402.5 684.8L403.0 684.9L403.5 684.9L404.0 684.9L404.5 684.8L405.0 684.8L405.5 684.7L406.0 684.7L406.5 684.7L407.0 684.8L407.5 684.7L408.0 684.7L408.5 684.7L409.0 684.7L409.5 684.6L410.0 684.7L410.5 684.7L411.0 684.7L411.5 684.7L412.0 684.7L412.5 684.7L413.0 684.7L413.5 684.6L414.0 684.5L414.5 684.6L415.0 684.6L415.5 684.6L416.0 684.7L416.5 684.7L417.0 684.8L417.5 684.8L418.0 684.8L418.5 684.7L419.0 684.7L419.5 684.7L420.0 684.7L420.5 684.8L421.0 684.8L421.5 684.9L422.0 684.8L422.5 684.8L423.0 684.7L423.5 684.6L424.0 684.6L424.5 684.7L425.0 684.7L425.5 684.7L426.0 684.7L426.5 684.6L427.0 684.6L427.5 684.5L428.0 684.5L428.5 684.4L429.0 684.5L429.5 684.4L430.0 684.4L430.5 684.3L431.0 684.4L431.5 684.4L432.0 684.6L432.5 684.6L433.0 684.7L433.5 684.7L434.0 684.7L434.5 684.5L435.0 684.7L435.5 684.7L436.0 684.6L436.5 684.6L437.0 684.6L437.5 684.5L438.0 684.5L438.5 684.5L439.0 684.6L439.5 684.6L440.0 684.5L440.5 684.6L441.0 684.7L441.5 684.6L442.0 684.5L442.5 684.6L443.0 684.5L443.5 684.4L444.0 684.5L444.5 684.5L445.0 684.6L445.5 684.5L446.0 684.7L446.5 684.7L447.0 684.7L447.5 684.7L448.0 684.8L448.5 684.7L449.0 684.7L449.5 684.7L450.0 684.6L450.5 684.4L451.0 684.5L451.5 684.6L452.0 684.7L452.5 684.7L453.0 684.8L453.5 684.8L454.0 684.8L454.5 684.7L455.0 684.7L455.5 684.7L456.0 684.5L456.5 684.3L457.0 684.3L457.5 684.3L458.0 683.9L458.5 683.6L459.0 683.1L459.5 682.0L460.0 680.3L460.5 677.9L461.0 674.4L461.5 668.6L462.0 659.3L462.5 649.2L463.0 638.2L463.5 626.3L464.0 614.5L464.5 602.9L465.0 587.0L465.5 564.9L466.0 534.5L466.5 504.3L467.0 484.7L467.5 475.7L468.0 470.2L468.5 466.1L469.0 463.5L469.5 463.9L470.0 466.8L470.5 471.2L471.0 479.9L471.5 493.8L472.0 517.1L472.5 540.2L473.0 559.8L473.5 575.8L474.0 588.0L474.5 599.9L475.0 614.1L475.5 624.7L476.0 632.7L476.5 639.4L477.0 645.4L477.5 650.5L478.0 654.6L478.5 657.9L479.0 660.7L479.5 663.2L480.0 665.4L480.5 667.5L481.0 669.3L481.5 670.9L482.0 672.3L482.5 673.3L483.0 674.3L483.5 675.2L484.0 675.8L484.5 676.5L485.0 677.1L485.5 677.5L486.0 677.8L486.5 678.3L487.0 678.7L487.5 679.1L488.0 679.4L488.5 679.8L489.0 680.2L489.5 680.4L490.0 680.7L490.5 680.8L491.0 680.9L491.5 681.1L492.0 681.2L492.5 681.4L493.0 681.6L493.5 681.8L494.0 681.9L494.5 682.0L495.0 682.1L495.5 682.2L496.0 682.4L496.5 682.5L497.0 682.6L497.5 682.7L498.0 682.8L498.5 682.9L499.0 683.1L499.5 683.3L500.0 683.3L500.5 683.4L501.0 683.4L501.5 683.3L502.0 683.3L502.5 683.3L503.0 683.4L503.5 683.5L504.0 683.6L504.5 683.7L505.0 683.7L505.5 683.8L506.0 683.9L506.5 684.0L507.0 684.1L507.5 684.2L508.0 684.2L508.5 684.2L509.0 684.3L509.5 684.3L510.0 684.3L510.5 684.4L511.0 684.4L511.5 684.6L512.0 684.7L512.5 684.6L513.0 684.5L513.5 684.5L514.0 684.4L514.5 684.3L515.0 684.3L515.5 684.3L516.0 684.4L516.5 684.3L517.0 684.5L517.5 684.5L518.0 684.6L518.5 684.5L519.0 684.6L519.5 684.5L520.0 684.5L520.5 684.4L521.0 684.4L521.5 684.5L522.0 684.4L522.5 684.5L523.0 684.6L523.5 684.5L524.0 684.4L524.5 684.5L525.0 684.4" fill="none" stroke="#72c472" stroke-width="1.15" stroke-linejoin="round"/>
<path d="M419.0 684.9L419.5 684.9L420.0 685.0L420.5 684.9L421.0 684.9L421.5 684.9L422.0 684.8L422.5 684.7L423.0 684.7L423.5 684.7L424.0 684.8L424.5 684.8L425.0 684.8L425.5 684.9L426.0 684.9L426.5 684.9L427.0 685.0L427.5 685.0L428.0 684.9L428.5 685.0L429.0 684.9L429.5 684.9L430.0 685.0L430.5 685.0L431.0 684.9L431.5 684.9L432.0 684.9L432.5 684.9L433.0 684.9L433.5 684.9L434.0 684.9L434.5 684.8L435.0 684.9L435.5 684.9L436.0 684.8L436.5 684.7L437.0 684.7L437.5 684.7L438.0 684.8L438.5 684.9L439.0 685.0L439.5 684.9L440.0 685.1L440.5 685.1L441.0 685.0L441.5 685.0L442.0 685.0L442.5 684.9L443.0 684.8L443.5 684.9L444.0 684.7L444.5 684.7L445.0 684.7L445.5 684.7L446.0 684.6L446.5 684.7L447.0 684.7L447.5 684.7L448.0 684.7L448.5 684.8L449.0 684.8L449.5 684.7L450.0 684.8L450.5 684.8L451.0 684.8L451.5 684.9L452.0 684.9L452.5 684.8L453.0 684.8L453.5 684.9L454.0 684.7L454.5 684.7L455.0 684.7L455.5 684.6L456.0 684.5L456.5 684.6L457.0 684.7L457.5 684.7L458.0 684.7L458.5 684.8L459.0 684.8L459.5 684.8L460.0 684.9L460.5 684.9L461.0 684.8L461.5 684.9L462.0 684.8L462.5 684.8L463.0 684.8L463.5 684.8L464.0 684.8L464.5 684.9L465.0 684.8L465.5 684.8L466.0 684.8L466.5 684.7L467.0 684.7L467.5 684.8L468.0 684.8L468.5 684.8L469.0 684.8L469.5 684.8L470.0 684.7L470.5 684.8L471.0 684.9L471.5 684.9L472.0 685.0L472.5 685.0L473.0 685.0L473.5 684.8L474.0 684.8L474.5 684.7L475.0 684.7L475.5 684.6L476.0 684.7L476.5 684.7L477.0 684.7L477.5 684.7L478.0 684.8L478.5 684.7L479.0 684.7L479.5 684.7L480.0 684.7L480.5 684.7L481.0 684.7L481.5 684.7L482.0 684.7L482.5 684.7L483.0 684.7L483.5 684.7L484.0 684.8L484.5 684.9L485.0 684.8L485.5 684.8L486.0 684.8L486.5 684.7L487.0 684.6L487.5 684.6L488.0 684.5L488.5 684.6L489.0 684.6L489.5 684.6L490.0 684.6L490.5 684.6L491.0 684.6L491.5 684.6L492.0 684.6L492.5 684.5L493.0 684.5L493.5 684.6L494.0 684.6L494.5 684.7L495.0 684.7L495.5 684.7L496.0 684.7L496.5 684.7L497.0 684.5L497.5 684.6L498.0 684.6L498.5 684.7L499.0 684.6L499.5 684.8L500.0 684.7L500.5 684.8L501.0 684.8L501.5 684.9L502.0 684.9L502.5 684.9L503.0 684.9L503.5 684.9L504.0 684.8L504.5 684.7L505.0 684.7L505.5 684.7L506.0 684.6L506.5 684.7L507.0 684.7L507.5 684.7L508.0 684.6L508.5 684.7L509.0 684.7L509.5 684.6L510.0 684.6L510.5 684.6L511.0 684.6L511.5 684.6L512.0 684.6L512.5 684.5L513.0 684.7L513.5 684.6L514.0 684.7L514.5 684.6L515.0 684.7L515.5 684.7L516.0 684.7L516.5 684.6L517.0 684.7L517.5 684.7L518.0 684.6L518.5 684.7L519.0 684.7L519.5 684.7L520.0 684.8L520.5 684.7L521.0 684.7L521.5 684.8L522.0 684.8L522.5 684.8L523.0 684.7L523.5 684.5L524.0 684.5L524.5 684.5L525.0 683.7L525.5 682.9L526.0 681.4L526.5 679.0L527.0 675.8L527.5 671.2L528.0 664.9L528.5 656.8L529.0 647.2L529.5 636.3L530.0 625.6L530.5 615.2L531.0 605.1L531.5 589.5L532.0 564.6L532.5 535.1L533.0 510.3L533.5 495.2L534.0 486.6L534.5 481.4L535.0 477.8L535.5 478.2L536.0 482.3L536.5 488.9L537.0 500.0L537.5 511.1L538.0 523.0L538.5 537.1L539.0 557.7L539.5 576.3L540.0 589.2L540.5 600.1L541.0 610.1L541.5 619.1L542.0 627.2L542.5 634.3L543.0 640.5L543.5 645.9L544.0 650.6L544.5 654.7L545.0 658.2L545.5 661.2L546.0 663.9L546.5 666.3L547.0 668.1L547.5 670.0L548.0 671.5L548.5 672.8L549.0 674.0L549.5 675.1L550.0 675.8L550.5 676.6L551.0 677.1L551.5 677.7L552.0 678.1L552.5 678.6L553.0 679.0L553.5 679.5L554.0 679.8L554.5 680.3L555.0 680.6L555.5 680.8L556.0 681.0L556.5 681.2L557.0 681.4L557.5 681.6L558.0 681.8L558.5 682.0L559.0 682.2L559.5 682.3L560.0 682.3L560.5 682.5L561.0 682.6L561.5 682.7L562.0 682.7L562.5 682.9L563.0 683.0L563.5 683.1L564.0 683.2L564.5 683.3L565.0 683.4L565.5 683.4L566.0 683.5L566.5 683.5L567.0 683.6L567.5 683.7L568.0 683.8L568.5 684.0L569.0 684.1L569.5 684.2L570.0 684.2L570.5 684.2L571.0 684.2L571.5 684.6L572.0 684.6L572.5 684.7L573.0 684.7L573.5 684.7L574.0 684.7L574.5 684.7L575.0 684.7L575.5 684.6L576.0 684.7L576.5 684.6L577.0 684.7L577.5 684.7L578.0 684.7L578.5 684.6L579.0 684.6L579.5 684.7L580.0 684.7L580.5 684.5L581.0 684.5L581.5 684.5L582.0 684.5L582.5 684.5L583.0 684.6L583.5 684.6L584.0 684.7L584.5 684.6L585.0 684.7L585.5 684.6L586.0 684.7L586.5 684.6L587.0 684.6L587.5 684.5L588.0 684.5L588.5 684.4L589.0 684.4L589.5 684.5L590.0 684.4L590.5 684.4L591.0 684.6L591.5 684.5L592.0 684.6L592.5 684.6L593.0 684.7L593.5 684.6L594.0 684.6L594.5 684.6L595.0 684.5L595.5 684.5L596.0 684.5L596.5 684.6L597.0 684.6L597.5 684.5L598.0 684.6L598.5 684.5L599.0 684.4L599.5 684.4L600.0 684.4" fill="none" stroke="#6eb0e4" stroke-width="1.15" stroke-linejoin="round"/>
<path d="M520.0 684.6L520.5 684.8L521.0 684.7L521.5 684.6L522.0 684.6L522.5 684.6L523.0 684.6L523.5 684.5L524.0 684.7L524.5 684.6L525.0 684.6L525.5 684.5L526.0 684.6L526.5 684.4L527.0 684.5L527.5 684.5L528.0 684.6L528.5 684.4L529.0 684.4L529.5 684.4L530.0 684.3L530.5 684.2L531.0 684.3L531.5 684.2L532.0 684.3L532.5 684.2L533.0 684.3L533.5 684.4L534.0 684.3L534.5 684.3L535.0 684.4L535.5 684.4L536.0 684.2L536.5 684.3L537.0 684.3L537.5 684.3L538.0 684.3L538.5 684.4L539.0 684.4L539.5 684.5L540.0 684.3L540.5 684.3L541.0 684.4L541.5 684.3L542.0 684.4L542.5 684.6L543.0 684.5L543.5 684.4L544.0 684.5L544.5 684.6L545.0 684.4L545.5 684.4L546.0 684.4L546.5 684.3L547.0 684.1L547.5 684.1L548.0 684.1L548.5 684.1L549.0 684.2L549.5 684.3L550.0 683.6L550.5 683.4L551.0 683.0L551.5 682.3L552.0 681.5L552.5 680.5L553.0 679.7L553.5 678.7L554.0 677.6L554.5 676.7L555.0 676.0L555.5 675.2L556.0 674.5L556.5 674.1L557.0 673.9L557.5 674.0L558.0 674.2L558.5 674.7L559.0 675.2L559.5 675.9L560.0 676.5L560.5 677.0L561.0 677.6L561.5 678.2L562.0 678.5L562.5 679.0L563.0 679.6L563.5 680.2L564.0 680.6L564.5 681.1L565.0 681.6L565.5 681.9L566.0 682.2L566.5 682.4L567.0 682.7L567.5 682.9L568.0 683.0L568.5 683.3L569.0 683.5L569.5 683.7L570.0 684.3L570.5 684.4L571.0 684.5L571.5 684.5L572.0 684.5L572.5 684.4L573.0 684.4L573.5 684.4L574.0 684.4L574.5 684.4L575.0 684.6L575.5 684.6L576.0 684.6L576.5 684.5L577.0 684.5L577.5 684.3L578.0 684.4L578.5 684.5L579.0 684.4L579.5 684.3L580.0 684.4L580.5 684.3L581.0 684.1L581.5 684.2L582.0 684.3L582.5 684.2L583.0 684.4L583.5 684.6L584.0 684.5L584.5 684.5L585.0 684.4L585.5 684.2L586.0 684.3L586.5 684.3L587.0 684.2L587.5 684.4L588.0 684.5L588.5 684.6L589.0 684.6L589.5 684.7L590.0 684.7L590.5 684.6L591.0 684.7L591.5 684.6L592.0 684.5L592.5 684.3L593.0 684.3L593.5 684.2L594.0 684.4L594.5 684.4L595.0 684.5L595.5 684.5L596.0 684.4L596.5 684.2L597.0 684.3L597.5 684.1L598.0 684.2L598.5 684.2L599.0 684.3L599.5 684.2L600.0 684.2" fill="none" stroke="#63b963" stroke-width="1.1" stroke-linejoin="round"/>
<path d="M520.0 684.4L520.5 684.5L521.0 684.5L521.5 684.4L522.0 684.4L522.5 684.6L523.0 684.5L523.5 684.5L524.0 684.6L524.5 684.6L525.0 684.5L525.5 684.6L526.0 684.4L526.5 684.3L527.0 684.3L527.5 684.3L528.0 684.3L528.5 684.3L529.0 684.5L529.5 684.5L530.0 684.7L530.5 684.5L531.0 684.6L531.5 684.6L532.0 684.6L532.5 684.5L533.0 684.5L533.5 684.4L534.0 684.4L534.5 684.3L535.0 684.4L535.5 684.5L536.0 684.5L536.5 684.4L537.0 684.5L537.5 684.4L538.0 684.4L538.5 684.4L539.0 684.6L539.5 684.5L540.0 684.5L540.5 684.4L541.0 684.4L541.5 684.3L542.0 684.3L542.5 684.4L543.0 684.6L543.5 684.3L544.0 684.3L544.5 684.2L545.0 684.2L545.5 684.4L546.0 684.5L546.5 684.5L547.0 684.6L547.5 683.9L548.0 683.6L548.5 683.3L549.0 682.8L549.5 682.4L550.0 681.7L550.5 681.0L551.0 680.3L551.5 679.8L552.0 678.9L552.5 678.2L553.0 677.4L553.5 676.6L554.0 675.9L554.5 675.2L555.0 674.7L555.5 674.1L556.0 673.6L556.5 673.1L557.0 672.9L557.5 672.5L558.0 672.2L558.5 672.0L559.0 672.1L559.5 671.9L560.0 672.3L560.5 672.5L561.0 672.9L561.5 673.1L562.0 673.5L562.5 673.9L563.0 674.5L563.5 675.1L564.0 675.7L564.5 676.5L565.0 677.0L565.5 677.5L566.0 678.0L566.5 678.5L567.0 678.7L567.5 679.1L568.0 679.5L568.5 679.9L569.0 680.2L569.5 680.5L570.0 680.8L570.5 681.0L571.0 681.4L571.5 681.8L572.0 682.1L572.5 682.3L573.0 682.5L573.5 682.5L574.0 682.8L574.5 683.0L575.0 683.3L575.5 683.5L576.0 683.8L576.5 684.4L577.0 684.4L577.5 684.4L578.0 684.4L578.5 684.4L579.0 684.3L579.5 684.2L580.0 684.2L580.5 684.1L581.0 684.1L581.5 684.3L582.0 684.3L582.5 684.5L583.0 684.6L583.5 684.5L584.0 684.3L584.5 684.4L585.0 684.3L585.5 684.4L586.0 684.3L586.5 684.4L587.0 684.4L587.5 684.4L588.0 684.3L588.5 684.5L589.0 684.5L589.5 684.5L590.0 684.6L590.5 684.4L591.0 684.4L591.5 684.6L592.0 684.6L592.5 684.6L593.0 684.7L593.5 684.6L594.0 684.4L594.5 684.3L595.0 684.3L595.5 684.3L596.0 684.3L596.5 684.2L597.0 684.3L597.5 684.2L598.0 684.2L598.5 684.2L599.0 684.4L599.5 684.4L600.0 684.3" fill="none" stroke="#63b963" stroke-width="1.1" stroke-linejoin="round"/>
<path d="M543.0 684.0L543.5 684.0L544.0 683.6L544.5 683.8L545.0 684.1L545.5 684.1L546.0 684.1L546.5 684.3L547.0 684.3L547.5 684.0L548.0 684.1L548.5 684.0L549.0 683.8L549.5 683.6L550.0 683.7L550.5 683.4L551.0 683.2L551.5 683.2L552.0 683.4L552.5 683.7L553.0 683.9L553.5 684.3L554.0 684.3L554.5 684.1L555.0 683.9L555.5 683.7L556.0 683.4L556.5 683.5L557.0 683.4L557.5 683.3L558.0 683.5L558.5 683.6L559.0 683.7L559.5 683.7L560.0 683.8L560.5 683.8L561.0 683.8L561.5 683.6L562.0 683.5L562.5 683.7L563.0 683.7L563.5 683.9L564.0 683.8L564.5 683.8L565.0 683.7L565.5 683.6L566.0 683.4L566.5 683.5L567.0 683.7L567.5 683.8L568.0 683.6L568.5 683.8L569.0 684.0L569.5 683.8L570.0 683.9L570.5 684.0L571.0 684.0L571.5 683.8L572.0 683.8L572.5 683.6L573.0 683.6L573.5 683.5L574.0 683.5L574.5 683.6L575.0 683.6L575.5 683.2L576.0 683.2L576.5 682.9L577.0 683.0L577.5 683.2L578.0 683.7L578.5 683.7L579.0 683.9L579.5 683.8L580.0 683.6L580.5 683.5L581.0 683.4L581.5 683.6L582.0 683.6L582.5 683.8L583.0 683.9L583.5 684.0L584.0 683.8L584.5 683.9L585.0 683.9L585.5 683.3L586.0 682.9L586.5 682.4L587.0 681.9L587.5 680.7L588.0 678.8L588.5 676.1L589.0 671.6L589.5 664.4L590.0 655.0L590.5 645.2L591.0 633.8L591.5 620.8L592.0 609.1L592.5 596.2L593.0 563.8L593.5 534.8L594.0 511.3L594.5 490.8L595.0 477.1L595.5 467.6L596.0 461.7L596.5 457.3L597.0 455.6L597.5 457.7L598.0 462.5L598.5 468.4L599.0 478.0L599.5 492.0L600.0 512.7L600.5 534.4L601.0 557.0L601.5 576.5L602.0 591.9L602.5 605.0L603.0 615.7L603.5 624.6L604.0 632.2L604.5 638.4L605.0 643.9L605.5 648.5L606.0 652.7L606.5 656.1L607.0 659.2L607.5 661.7L608.0 664.1L608.5 665.7L609.0 667.2L609.5 668.5L610.0 670.0L610.5 671.1L611.0 672.2L611.5 673.1L612.0 673.9L612.5 674.6L613.0 675.2L613.5 675.8L614.0 676.3L614.5 676.8L615.0 677.2L615.5 677.4L616.0 677.7L616.5 677.9L617.0 678.2L617.5 678.5L618.0 678.7L618.5 678.7L619.0 678.9L619.5 678.9L620.0 678.8L620.5 679.3L621.0 679.5L621.5 679.8L622.0 680.0L622.5 680.3L623.0 680.3L623.5 680.4L624.0 680.6L624.5 680.7L625.0 680.7L625.5 680.8L626.0 680.9L626.5 681.0L627.0 681.0L627.5 681.1L628.0 681.4L628.5 681.7L629.0 681.7L629.5 681.9L630.0 682.1L630.5 681.8L631.0 681.5L631.5 681.5L632.0 681.7L632.5 681.7L633.0 682.0L633.5 682.0L634.0 682.2L634.5 682.0L635.0 682.1L635.5 682.0L636.0 682.1L636.5 682.2L637.0 682.6L637.5 682.8L638.0 683.0L638.5 683.3L639.0 683.4L639.5 683.4L640.0 683.5L640.5 683.5L641.0 683.4L641.5 683.4L642.0 683.3L642.5 683.2L643.0 683.1L643.5 682.9L644.0 682.8L644.5 682.5L645.0 682.5L645.5 682.7L646.0 682.7L646.5 682.9L647.0 683.4L647.5 683.4L648.0 683.6L648.5 684.1L649.0 683.9L649.5 683.9L650.0 684.0L650.5 683.8L651.0 683.7L651.5 683.8L652.0 683.6L652.5 683.4L653.0 683.3L653.5 683.1L654.0 683.0L654.5 683.0L655.0 683.2L655.5 683.3L656.0 683.4L656.5 683.3L657.0 683.3L657.5 683.2L658.0 683.2L658.5 683.1L659.0 683.5L659.5 683.6L660.0 683.6L660.5 683.6L661.0 683.8L661.5 683.6L662.0 683.8L662.5 683.8L663.0 683.9L663.5 683.8L664.0 683.9L664.5 683.9L665.0 684.0L665.5 684.0L666.0 684.1L666.5 684.0L667.0 684.1L667.5 684.0L668.0 683.6L668.5 683.7L669.0 683.7L669.5 683.4L670.0 683.3L670.5 683.5L671.0 683.6L671.5 683.7L672.0 683.6L672.5 683.7L673.0 683.8L673.5 683.7L674.0 683.5L674.5 683.4L675.0 683.4L675.5 683.4L676.0 683.1L676.5 682.9L677.0 683.3L677.5 683.5L678.0 683.3L678.5 683.5L679.0 683.7L679.5 684.0L680.0 683.8L680.5 684.0L681.0 684.0L681.5 684.2L682.0 683.8L682.5 683.8L683.0 683.8L683.5 683.4L684.0 683.6L684.5 683.6L685.0 683.5L685.5 683.6L686.0 683.6L686.5 683.2L687.0 683.1L687.5 683.1L688.0 683.1L688.5 683.5L689.0 683.6L689.5 683.7L690.0 683.9L690.5 683.7L691.0 683.6L691.5 683.5L692.0 683.6L692.5 683.6L693.0 683.7L693.5 683.5L694.0 683.7L694.5 683.4L695.0 683.5L695.5 683.4L696.0 683.5L696.5 683.6L697.0 683.8L697.5 683.7L698.0 683.8L698.5 683.9L699.0 683.7L699.5 683.7L700.0 683.6L700.5 683.7L701.0 683.7L701.5 683.9L702.0 684.1L702.5 684.2L703.0 684.5L703.5 684.5L704.0 684.3L704.5 684.2L705.0 684.3" fill="none" stroke="#c55c69" stroke-width="1.15" stroke-linejoin="round"/>
<path d="M458.0 685.0L458.5 684.8L459.0 684.9L459.5 684.9L460.0 685.0L460.5 685.0L461.0 685.3L461.5 685.2L462.0 685.2L462.5 685.1L463.0 685.1L463.5 685.0L464.0 685.1L464.5 684.9L465.0 685.0L465.5 685.0L466.0 684.9L466.5 684.9L467.0 685.0L467.5 684.8L468.0 684.8L468.5 684.9L469.0 684.8L469.5 684.9L470.0 685.0L470.5 685.1L471.0 684.9L471.5 685.0L472.0 685.0L472.5 685.0L473.0 684.9L473.5 684.9L474.0 685.0L474.5 685.0L475.0 685.0L475.5 685.0L476.0 685.1L476.5 685.0L477.0 685.0L477.5 684.9L478.0 685.0L478.5 685.0L479.0 684.9L479.5 684.9L480.0 684.9L480.5 684.9L481.0 684.9L481.5 684.9L482.0 684.9L482.5 684.9L483.0 684.9L483.5 685.0L484.0 685.0L484.5 684.9L485.0 684.9L485.5 684.9L486.0 685.0L486.5 685.1L487.0 685.1L487.5 685.1L488.0 685.1L488.5 684.9L489.0 685.0L489.5 685.0L490.0 685.0L490.5 685.1L491.0 685.3L491.5 685.1L492.0 685.2L492.5 685.1L493.0 685.0L493.5 685.0L494.0 685.0L494.5 685.0L495.0 685.1L495.5 685.1L496.0 685.0L496.5 685.0L497.0 685.0L497.5 685.1L498.0 685.1L498.5 685.2L499.0 685.1L499.5 685.1L500.0 685.0L500.5 685.0L501.0 685.1L501.5 685.0L502.0 685.0L502.5 685.1L503.0 685.1L503.5 685.0L504.0 685.0L504.5 685.0L505.0 684.9L505.5 684.8L506.0 684.8L506.5 684.9L507.0 684.9L507.5 685.1L508.0 685.2L508.5 685.2L509.0 685.2L509.5 685.1L510.0 684.9L510.5 684.8L511.0 684.7L511.5 684.7L512.0 684.7L512.5 684.7L513.0 684.7L513.5 684.7L514.0 684.7L514.5 684.7L515.0 684.8L515.5 685.0L516.0 685.0L516.5 685.0L517.0 685.0L517.5 685.0L518.0 685.0L518.5 685.0L519.0 684.9L519.5 685.0L520.0 684.8L520.5 684.7L521.0 684.8L521.5 684.8L522.0 684.8L522.5 684.9L523.0 684.9L523.5 684.9L524.0 684.9L524.5 684.8L525.0 684.8L525.5 684.8L526.0 684.9L526.5 684.9L527.0 685.0L527.5 685.0L528.0 685.0L528.5 684.9L529.0 684.8L529.5 684.7L530.0 684.8L530.5 684.7L531.0 684.9L531.5 684.9L532.0 684.9L532.5 684.9L533.0 685.0L533.5 684.8L534.0 684.9L534.5 685.0L535.0 684.9L535.5 684.8L536.0 684.8L536.5 684.7L537.0 684.7L537.5 684.7L538.0 684.7L538.5 684.7L539.0 684.9L539.5 684.8L540.0 684.8L540.5 685.0L541.0 685.0L541.5 684.9L542.0 684.9L542.5 684.9L543.0 684.7L543.5 684.7L544.0 684.7L544.5 684.7L545.0 684.8L545.5 684.9L546.0 684.9L546.5 684.9L547.0 684.8L547.5 684.7L548.0 684.6L548.5 684.6L549.0 684.6L549.5 684.7L550.0 684.6L550.5 684.7L551.0 684.7L551.5 684.7L552.0 684.8L552.5 684.8L553.0 684.8L553.5 684.8L554.0 684.9L554.5 684.9L555.0 684.9L555.5 685.1L556.0 685.1L556.5 685.0L557.0 685.1L557.5 685.1L558.0 685.0L558.5 684.9L559.0 685.0L559.5 684.9L560.0 684.8L560.5 684.9L561.0 684.9L561.5 684.8L562.0 684.9L562.5 684.9L563.0 684.9L563.5 684.9L564.0 685.0L564.5 685.0L565.0 685.0L565.5 684.9L566.0 685.0L566.5 684.9L567.0 684.8L567.5 684.6L568.0 684.8L568.5 684.7L569.0 684.7L569.5 684.8L570.0 684.9L570.5 684.9L571.0 684.9L571.5 684.9L572.0 684.9L572.5 684.9L573.0 684.8L573.5 684.9L574.0 684.9L574.5 684.8L575.0 684.7L575.5 684.7L576.0 684.6L576.5 684.5L577.0 684.6L577.5 684.7L578.0 684.7L578.5 684.8L579.0 684.8L579.5 684.7L580.0 684.7L580.5 684.9L581.0 684.9L581.5 684.9L582.0 684.9L582.5 684.9L583.0 684.6L583.5 684.6L584.0 684.6L584.5 684.7L585.0 684.7L585.5 684.7L586.0 684.7L586.5 684.7L587.0 684.6L587.5 684.6L588.0 684.7L588.5 684.8L589.0 684.9L589.5 684.9L590.0 684.9L590.5 684.7L591.0 684.7L591.5 684.7L592.0 684.7L592.5 684.8L593.0 684.9L593.5 684.9L594.0 684.9L594.5 684.8L595.0 684.8L595.5 684.8L596.0 684.8L596.5 684.8L597.0 684.9L597.5 684.8L598.0 684.8L598.5 684.9L599.0 684.9L599.5 684.9L600.0 684.9L600.5 685.0L601.0 684.9L601.5 684.9L602.0 684.9L602.5 684.8L603.0 684.6L603.5 684.7L604.0 684.5L604.5 684.6L605.0 684.6L605.5 684.7L606.0 684.6L606.5 684.7L607.0 684.7L607.5 684.9L608.0 684.9L608.5 685.0L609.0 684.9L609.5 684.9L610.0 684.9L610.5 684.8L611.0 684.8L611.5 684.8L612.0 684.8L612.5 684.8L613.0 684.8L613.5 684.7L614.0 684.8L614.5 684.7L615.0 684.6L615.5 684.7L616.0 684.6L616.5 684.5L617.0 684.7L617.5 684.6L618.0 684.7L618.5 684.7L619.0 684.8L619.5 684.8L620.0 685.0L620.5 684.8L621.0 685.0L621.5 684.9L622.0 684.8L622.5 684.7L623.0 684.7L623.5 684.7L624.0 684.7L624.5 684.7L625.0 684.7L625.5 684.7L626.0 684.7L626.5 684.8L627.0 684.7L627.5 684.7L628.0 684.7L628.5 684.6L629.0 684.6L629.5 684.6L630.0 684.7L630.5 684.7L631.0 684.8L631.5 684.8L632.0 684.9L632.5 684.8L633.0 684.8L633.5 684.7L634.0 684.7L634.5 684.7L635.0 684.8L635.5 684.9L636.0 685.0L636.5 685.0L637.0 684.9L637.5 684.8L638.0 684.8L638.5 684.9L639.0 684.8L639.5 684.8L640.0 684.9L640.5 684.8L641.0 684.7L641.5 684.8L642.0 684.8L642.5 684.8L643.0 684.7L643.5 684.6L644.0 684.6L644.5 684.6L645.0 684.5L645.5 684.5L646.0 684.7L646.5 684.6L647.0 684.7L647.5 683.7L648.0 682.7L648.5 680.7L649.0 677.7L649.5 672.8L650.0 666.3L650.5 658.4L651.0 649.4L651.5 639.1L652.0 626.9L652.5 613.2L653.0 604.2L653.5 593.9L654.0 580.8L654.5 560.2L655.0 530.5L655.5 507.6L656.0 494.7L656.5 486.4L657.0 482.9L657.5 481.4L658.0 481.2L658.5 482.2L659.0 484.4L659.5 491.3L660.0 501.1L660.5 513.1L661.0 528.2L661.5 548.4L662.0 570.0L662.5 581.5L663.0 589.9L663.5 598.4L664.0 608.9L664.5 619.2L665.0 627.0L665.5 633.5L666.0 639.2L666.5 644.3L667.0 648.7L667.5 652.6L668.0 656.1L668.5 659.3L669.0 662.1L669.5 664.4L670.0 666.6L670.5 668.6L671.0 670.2L671.5 671.7L672.0 673.0L672.5 674.0L673.0 674.7L673.5 675.4L674.0 676.1L674.5 676.6L675.0 677.2L675.5 677.7L676.0 678.2L676.5 678.7L677.0 679.0L677.5 679.3L678.0 679.5L678.5 679.8L679.0 680.0L679.5 680.2L680.0 680.5L680.5 680.8L681.0 680.9L681.5 681.2L682.0 681.3L682.5 681.5L683.0 681.8L683.5 681.9L684.0 682.0L684.5 682.2L685.0 682.4L685.5 682.3L686.0 682.4L686.5 682.5L687.0 682.6L687.5 682.6L688.0 682.8L688.5 682.8L689.0 682.9L689.5 683.0L690.0 683.0L690.5 683.0L691.0 683.1L691.5 683.2L692.0 683.4L692.5 683.5L693.0 683.5L693.5 683.6L694.0 683.7L694.5 683.7L695.0 683.7L695.5 683.9L696.0 683.9L696.5 683.9L697.0 683.9L697.5 684.1L698.0 684.0L698.5 684.0L699.0 684.1L699.5 684.1L700.0 683.9L700.5 684.2L701.0 684.2L701.5 684.3L702.0 684.4L702.5 684.5L703.0 684.4L703.5 684.5L704.0 684.5L704.5 684.5L705.0 684.5L705.5 684.5L706.0 684.6L706.5 684.8L707.0 684.7L707.5 684.7L708.0 684.7L708.5 684.6L709.0 684.5L709.5 684.5L710.0 684.5L710.5 684.5L711.0 684.6L711.5 684.6L712.0 684.8L712.5 684.8L713.0 685.0L713.5 685.0L714.0 685.0L714.5 684.8L715.0 684.7L715.5 684.5L716.0 684.5L716.5 684.5L717.0 684.5L717.5 684.8L718.0 684.7L718.5 684.8L719.0 684.5L719.5 684.6L720.0 684.5L720.5 684.5L721.0 684.5L721.5 684.6L722.0 684.6L722.5 684.7L723.0 684.7L723.5 684.7L724.0 684.8L724.5 684.8L725.0 684.7L725.5 684.6L726.0 684.6L726.5 684.6L727.0 684.6L727.5 684.6L728.0 684.7L728.5 684.6L729.0 684.6L729.5 684.5L730.0 684.7" fill="none" stroke="#5258bc" stroke-width="1.15" stroke-linejoin="round"/>
<path d="M640.0 684.7L640.5 684.8L641.0 684.8L641.5 684.9L642.0 684.8L642.5 684.8L643.0 684.8L643.5 684.9L644.0 684.9L644.5 685.0L645.0 684.9L645.5 684.9L646.0 684.7L646.5 684.7L647.0 684.7L647.5 684.7L648.0 684.7L648.5 684.8L649.0 684.9L649.5 684.9L650.0 684.9L650.5 684.9L651.0 684.9L651.5 684.9L652.0 684.9L652.5 684.9L653.0 684.9L653.5 684.8L654.0 684.7L654.5 684.7L655.0 684.7L655.5 684.8L656.0 684.9L656.5 685.0L657.0 685.0L657.5 685.0L658.0 684.9L658.5 684.9L659.0 684.9L659.5 684.7L660.0 684.7L660.5 684.8L661.0 684.8L661.5 684.9L662.0 684.9L662.5 684.9L663.0 684.8L663.5 684.8L664.0 684.7L664.5 684.7L665.0 684.8L665.5 684.9L666.0 684.9L666.5 684.9L667.0 684.8L667.5 684.7L668.0 684.7L668.5 684.7L669.0 684.7L669.5 684.9L670.0 684.9L670.5 685.0L671.0 684.9L671.5 685.0L672.0 684.9L672.5 684.9L673.0 684.8L673.5 684.8L674.0 685.0L674.5 684.9L675.0 684.9L675.5 684.9L676.0 684.8L676.5 684.7L677.0 684.7L677.5 684.7L678.0 684.9L678.5 685.1L679.0 685.0L679.5 685.0L680.0 685.0L680.5 684.9L681.0 684.8L681.5 684.9L682.0 684.9L682.5 684.9L683.0 684.9L683.5 684.9L684.0 685.0L684.5 684.9L685.0 684.9L685.5 685.0L686.0 685.0L686.5 684.9L687.0 684.8L687.5 684.8L688.0 684.6L688.5 684.6L689.0 684.6L689.5 684.6L690.0 684.6L690.5 684.7L691.0 684.7L691.5 684.6L692.0 684.8L692.5 684.8L693.0 684.7L693.5 684.6L694.0 684.6L694.5 684.6L695.0 684.7L695.5 684.8L696.0 684.8L696.5 684.8L697.0 684.7L697.5 684.6L698.0 684.5L698.5 684.5L699.0 684.6L699.5 684.7L700.0 684.7L700.5 684.7L701.0 684.6L701.5 684.6L702.0 684.6L702.5 684.7L703.0 684.7L703.5 684.8L704.0 684.9L704.5 684.9L705.0 684.8L705.5 684.8L706.0 684.8L706.5 684.8L707.0 684.7L707.5 684.6L708.0 684.6L708.5 684.6L709.0 684.6L709.5 684.1L710.0 683.7L710.5 682.7L711.0 681.0L711.5 678.4L712.0 674.7L712.5 668.7L713.0 658.3L713.5 646.8L714.0 636.1L714.5 626.0L715.0 616.7L715.5 607.9L716.0 597.7L716.5 578.2L717.0 559.2L717.5 542.1L718.0 533.1L718.5 526.4L719.0 521.3L719.5 516.4L720.0 512.3L720.5 510.4L721.0 512.2L721.5 516.4L722.0 521.4L722.5 527.1L723.0 534.7L723.5 544.1L724.0 557.3L724.5 570.3L725.0 581.4L725.5 591.4L726.0 600.3L726.5 608.1L727.0 615.1L727.5 621.6L728.0 627.6L728.5 633.1L729.0 638.3L729.5 643.3L730.0 647.8L730.5 651.9L731.0 655.5L731.5 658.7L732.0 661.5L732.5 664.1L733.0 666.3L733.5 668.1L734.0 669.8L734.5 671.2L735.0 672.4L735.5 673.3L736.0 674.3L736.5 675.1L737.0 675.7L737.5 676.2L738.0 676.7L738.5 677.2L739.0 677.6L739.5 678.1L740.0 678.5L740.5 678.9L741.0 679.2L741.5 679.5L742.0 679.7L742.5 679.9L743.0 680.1L743.5 680.3L744.0 680.5L744.5 680.8L745.0 681.0L745.5 681.1L746.0 681.4L746.5 681.6L747.0 681.7L747.5 681.9L748.0 682.1L748.5 682.1L749.0 682.3L749.5 682.4L750.0 682.4L750.5 682.6L751.0 682.6L751.5 682.6L752.0 682.8L752.5 683.0L753.0 683.0L753.5 683.2L754.0 683.3L754.5 683.4L755.0 683.3L755.5 683.4L756.0 683.5L756.5 683.6L757.0 683.7L757.5 683.9L758.0 683.9L758.5 684.0L759.0 684.0L759.5 684.0L760.0 684.0L760.5 684.0L761.0 684.1L761.5 684.1L762.0 684.3L762.5 684.8L763.0 684.8L763.5 684.8L764.0 684.8L764.5 684.8L765.0 684.7L765.5 684.7L766.0 684.7L766.5 684.7L767.0 684.6L767.5 684.6L768.0 684.6L768.5 684.6L769.0 684.6L769.5 684.7L770.0 684.7L770.5 684.8L771.0 684.7L771.5 684.7L772.0 684.7L772.5 684.7L773.0 684.6L773.5 684.7L774.0 684.6L774.5 684.6L775.0 684.5L775.5 684.6L776.0 684.4L776.5 684.5L777.0 684.4L777.5 684.5L778.0 684.4L778.5 684.5L779.0 684.5L779.5 684.5L780.0 684.4L780.5 684.5L781.0 684.5L781.5 684.6L782.0 684.7L782.5 684.7L783.0 684.6L783.5 684.6L784.0 684.7L784.5 684.7L785.0 684.7L785.5 684.7L786.0 684.7L786.5 684.7L787.0 684.6L787.5 684.5L788.0 684.5L788.5 684.6L789.0 684.6L789.5 684.5L790.0 684.6L790.5 684.6L791.0 684.6L791.5 684.4L792.0 684.6L792.5 684.7L793.0 684.6L793.5 684.6L794.0 684.6L794.5 684.7L795.0 684.6L795.5 684.5L796.0 684.7L796.5 684.6L797.0 684.6L797.5 684.6L798.0 684.7L798.5 684.6L799.0 684.7L799.5 684.7L800.0 684.6" fill="none" stroke="#ef4353" stroke-width="1.15" stroke-linejoin="round"/>
<path d="M700.0 684.6L700.5 684.5L701.0 684.5L701.5 684.6L702.0 684.5L702.5 684.6L703.0 684.5L703.5 684.5L704.0 684.5L704.5 684.6L705.0 684.6L705.5 684.6L706.0 684.7L706.5 684.7L707.0 684.7L707.5 684.7L708.0 684.8L708.5 684.8L709.0 684.8L709.5 684.7L710.0 684.7L710.5 684.7L711.0 684.6L711.5 684.6L712.0 684.5L712.5 684.5L713.0 684.5L713.5 684.5L714.0 684.5L714.5 684.7L715.0 684.6L715.5 684.6L716.0 684.6L716.5 684.6L717.0 684.5L717.5 684.5L718.0 684.4L718.5 684.3L719.0 684.4L719.5 684.4L720.0 684.5L720.5 684.6L721.0 684.6L721.5 684.6L722.0 684.6L722.5 684.6L723.0 684.6L723.5 684.6L724.0 684.5L724.5 684.6L725.0 684.5L725.5 684.6L726.0 684.7L726.5 684.7L727.0 684.6L727.5 684.5L728.0 684.5L728.5 684.4L729.0 684.3L729.5 684.4L730.0 684.5L730.5 684.5L731.0 684.5L731.5 684.5L732.0 684.5L732.5 684.4L733.0 684.5L733.5 684.6L734.0 684.6L734.5 684.6L735.0 684.6L735.5 684.6L736.0 684.5L736.5 684.5L737.0 684.5L737.5 684.5L738.0 684.6L738.5 684.6L739.0 684.6L739.5 684.6L740.0 684.5L740.5 684.5L741.0 684.4L741.5 684.5L742.0 684.5L742.5 684.6L743.0 684.5L743.5 684.5L744.0 684.4L744.5 684.5L745.0 684.5L745.5 684.6L746.0 684.5L746.5 684.4L747.0 684.4L747.5 684.4L748.0 684.4L748.5 684.4L749.0 684.5L749.5 684.5L750.0 684.5L750.5 684.5L751.0 684.5L751.5 684.5L752.0 684.5L752.5 684.4L753.0 684.4L753.5 684.4L754.0 684.5L754.5 684.5L755.0 684.6L755.5 684.6L756.0 684.6L756.5 684.5L757.0 684.5L757.5 684.5L758.0 684.5L758.5 684.6L759.0 684.6L759.5 684.7L760.0 684.6L760.5 684.6L761.0 684.6L761.5 684.6L762.0 684.6L762.5 684.6L763.0 684.6L763.5 684.5L764.0 684.5L764.5 684.5L765.0 684.4L765.5 684.4L766.0 684.5L766.5 684.5L767.0 684.5L767.5 684.5L768.0 684.6L768.5 684.5L769.0 684.5L769.5 684.6L770.0 684.6L770.5 684.7L771.0 684.7L771.5 684.6L772.0 684.6L772.5 684.0L773.0 683.1L773.5 681.7L774.0 679.4L774.5 676.2L775.0 672.1L775.5 665.5L776.0 655.2L776.5 644.4L777.0 633.8L777.5 623.0L778.0 612.7L778.5 604.1L779.0 591.1L779.5 570.0L780.0 539.6L780.5 526.2L781.0 518.0L781.5 511.5L782.0 506.8L782.5 505.0L783.0 503.7L783.5 503.0L784.0 503.0L784.5 503.5L785.0 504.4L785.5 505.7L786.0 509.2L786.5 516.4L787.0 524.4L787.5 534.3L788.0 555.6L788.5 574.9L789.0 583.5L789.5 589.4L790.0 595.0L790.5 601.5L791.0 608.9L791.5 616.3L792.0 623.3L792.5 629.9L793.0 636.1L793.5 641.2L794.0 645.8L794.5 649.8L795.0 653.5L795.5 656.7L796.0 659.7L796.5 662.2L797.0 664.5L797.5 666.4L798.0 668.1L798.5 669.7L799.0 671.1L799.5 672.2L800.0 673.2L800.5 674.1L801.0 674.8L801.5 675.4L802.0 676.1L802.5 676.5L803.0 677.0L803.5 677.5L804.0 677.9L804.5 678.3L805.0 678.8L805.5 678.9L806.0 679.3L806.5 679.7L807.0 679.9L807.5 680.1L808.0 680.3L808.5 680.5L809.0 680.7L809.5 680.9L810.0 681.2L810.5 681.4L811.0 681.5L811.5 681.6L812.0 681.6L812.5 681.6L813.0 681.7L813.5 681.7L814.0 681.8L814.5 681.9L815.0 682.2L815.5 682.3L816.0 682.5L816.5 682.7L817.0 682.7L817.5 682.7L818.0 682.7L818.5 682.9L819.0 683.0L819.5 683.0L820.0 683.2L820.5 683.4L821.0 683.4L821.5 683.5L822.0 683.5L822.5 683.6L823.0 683.6L823.5 683.7L824.0 683.6L824.5 683.7L825.0 683.8L825.5 683.8L826.0 683.8L826.5 683.9L827.0 684.0L827.5 684.1L828.0 684.2L828.5 684.2L829.0 684.2L829.5 684.1L830.0 684.1L830.5 684.1L831.0 684.2L831.5 684.4L832.0 684.4L832.5 684.4L833.0 684.4L833.5 684.4L834.0 684.5L834.5 684.4L835.0 684.5L835.5 684.4L836.0 684.4L836.5 684.3L837.0 684.4L837.5 684.3L838.0 684.4L838.5 684.3L839.0 684.4L839.5 684.4L840.0 684.4L840.5 684.4L841.0 684.4L841.5 684.3L842.0 684.3L842.5 684.3L843.0 684.3L843.5 684.3L844.0 684.4L844.5 684.3L845.0 684.3L845.5 684.3L846.0 684.4L846.5 684.4L847.0 684.5L847.5 684.5L848.0 684.4L848.5 684.3L849.0 684.4L849.5 684.3L850.0 684.3L850.5 684.4L851.0 684.5L851.5 684.4L852.0 684.3L852.5 684.3L853.0 684.2L853.5 684.2L854.0 684.3L854.5 684.3L855.0 684.4L855.5 684.5L856.0 684.5L856.5 684.5L857.0 684.5L857.5 684.4L858.0 684.3L858.5 684.2L859.0 684.3L859.5 684.3L860.0 684.4" fill="none" stroke="#333333" stroke-width="1.1" stroke-linejoin="round"/>
<path d="M770.0 684.7L770.5 684.7L771.0 684.7L771.5 684.8L772.0 684.8L772.5 684.8L773.0 684.7L773.5 684.7L774.0 684.7L774.5 684.8L775.0 684.7L775.5 684.6L776.0 684.7L776.5 684.7L777.0 684.7L777.5 684.7L778.0 684.9L778.5 684.9L779.0 684.9L779.5 684.9L780.0 684.8L780.5 684.8L781.0 684.8L781.5 684.9L782.0 684.9L782.5 684.8L783.0 684.8L783.5 684.8L784.0 684.8L784.5 684.8L785.0 684.9L785.5 684.9L786.0 684.8L786.5 684.8L787.0 684.8L787.5 684.7L788.0 684.8L788.5 684.9L789.0 684.8L789.5 684.8L790.0 684.8L790.5 684.7L791.0 684.7L791.5 684.6L792.0 684.7L792.5 684.6L793.0 684.6L793.5 684.7L794.0 684.8L794.5 684.8L795.0 684.9L795.5 684.9L796.0 684.8L796.5 684.7L797.0 684.9L797.5 684.9L798.0 684.9L798.5 684.9L799.0 684.9L799.5 684.7L800.0 684.7L800.5 684.7L801.0 684.8L801.5 684.9L802.0 685.0L802.5 685.0L803.0 684.9L803.5 684.8L804.0 684.8L804.5 684.7L805.0 684.8L805.5 684.7L806.0 684.7L806.5 684.6L807.0 684.5L807.5 684.4L808.0 684.5L808.5 684.6L809.0 684.7L809.5 684.8L810.0 684.9L810.5 684.9L811.0 684.9L811.5 684.9L812.0 684.9L812.5 684.8L813.0 684.8L813.5 684.7L814.0 684.6L814.5 684.7L815.0 684.6L815.5 684.7L816.0 684.8L816.5 684.9L817.0 684.9L817.5 685.0L818.0 685.0L818.5 684.9L819.0 684.8L819.5 684.8L820.0 684.7L820.5 684.8L821.0 684.8L821.5 684.7L822.0 684.8L822.5 684.9L823.0 684.8L823.5 684.9L824.0 684.9L824.5 684.9L825.0 684.7L825.5 684.7L826.0 684.7L826.5 684.7L827.0 684.8L827.5 684.8L828.0 684.8L828.5 684.7L829.0 684.8L829.5 684.8L830.0 684.7L830.5 684.8L831.0 684.7L831.5 684.8L832.0 684.7L832.5 684.8L833.0 684.7L833.5 684.8L834.0 684.6L834.5 684.6L835.0 684.1L835.5 683.6L836.0 682.5L836.5 680.7L837.0 677.7L837.5 673.7L838.0 668.3L838.5 659.5L839.0 647.8L839.5 637.9L840.0 628.7L840.5 619.2L841.0 609.8L841.5 601.5L842.0 576.4L842.5 547.0L843.0 526.0L843.5 513.3L844.0 504.2L844.5 496.6L845.0 490.8L845.5 486.5L846.0 483.9L846.5 482.1L847.0 481.0L847.5 480.8L848.0 479.6L848.5 480.1L849.0 481.8L849.5 485.5L850.0 491.9L850.5 501.3L851.0 511.2L851.5 520.7L852.0 532.3L852.5 550.9L853.0 570.4L853.5 585.8L854.0 598.2L854.5 607.3L855.0 614.3L855.5 620.6L856.0 626.1L856.5 631.0L857.0 635.6L857.5 640.4L858.0 645.3L858.5 649.9L859.0 653.8L859.5 657.4L860.0 660.5L860.5 663.1L861.0 665.4L861.5 667.5L862.0 669.1L862.5 670.5L863.0 671.8L863.5 673.0L864.0 674.0L864.5 674.8L865.0 675.5L865.5 676.1L866.0 676.7L866.5 677.2L867.0 677.6L867.5 678.0L868.0 678.3L868.5 678.6L869.0 678.8L869.5 679.2L870.0 679.6L870.5 679.9L871.0 680.1L871.5 680.4L872.0 680.5L872.5 680.6L873.0 680.9L873.5 681.0L874.0 681.1L874.5 681.3L875.0 681.5L875.5 681.4L876.0 681.5L876.5 681.7L877.0 681.8L877.5 682.0L878.0 682.1L878.5 682.4L879.0 682.4L879.5 682.4L880.0 682.4L880.5 682.5L881.0 682.6L881.5 682.8L882.0 682.8L882.5 683.0L883.0 683.0L883.5 683.0L884.0 683.0L884.5 683.1L885.0 683.1L885.5 683.2L886.0 683.3L886.5 683.4L887.0 683.5L887.5 683.6L888.0 683.5L888.5 683.6L889.0 683.6L889.5 683.6L890.0 683.7L890.5 683.8L891.0 683.8L891.5 683.8L892.0 683.9L892.5 683.9L893.0 684.0L893.5 684.2L894.0 684.4L894.5 684.4L895.0 684.4L895.5 684.4L896.0 684.3L896.5 684.3L897.0 684.3L897.5 684.5L898.0 684.6L898.5 684.6L899.0 684.7L899.5 684.7L900.0 684.7L900.5 684.7L901.0 684.7L901.5 684.6L902.0 684.6L902.5 684.6L903.0 684.6L903.5 684.6L904.0 684.8L904.5 684.7L905.0 684.7L905.5 684.7L906.0 684.7L906.5 684.5L907.0 684.7L907.5 684.7L908.0 684.8L908.5 684.9L909.0 684.9L909.5 684.8L910.0 684.8L910.5 684.7L911.0 684.7L911.5 684.7L912.0 684.7L912.5 684.7L913.0 684.6L913.5 684.7L914.0 684.8L914.5 684.8L915.0 684.8L915.5 684.8L916.0 684.8L916.5 684.6L917.0 684.6L917.5 684.6L918.0 684.7L918.5 684.7L919.0 684.7L919.5 684.6L920.0 684.6L920.5 684.5L921.0 684.4L921.5 684.5L922.0 684.5L922.5 684.5L923.0 684.6L923.5 684.7L924.0 684.8L924.5 684.8L925.0 684.8L925.5 684.7L926.0 684.6L926.5 684.6L927.0 684.6L927.5 684.8L928.0 684.9L928.5 684.9L929.0 684.9L929.5 684.8L930.0 684.6L930.5 684.6L931.0 684.5L931.5 684.5L932.0 684.5L932.5 684.7L933.0 684.8L933.5 684.8L934.0 684.8L934.5 684.8L935.0 684.8L935.5 684.6L936.0 684.6L936.5 684.7L937.0 684.7L937.5 684.7L938.0 684.8L938.5 684.8L939.0 684.7L939.5 684.7L940.0 684.6" fill="none" stroke="#ee404b" stroke-width="1.15" stroke-linejoin="round"/>
<path d="M800.0 685.0L800.5 685.1L801.0 685.1L801.5 685.1L802.0 685.1L802.5 685.2L803.0 685.2L803.5 685.2L804.0 685.2L804.5 685.1L805.0 685.2L805.5 685.0L806.0 685.0L806.5 684.9L807.0 685.0L807.5 685.1L808.0 685.0L808.5 685.0L809.0 685.0L809.5 685.0L810.0 684.9L810.5 685.0L811.0 685.0L811.5 685.1L812.0 685.1L812.5 685.1L813.0 685.0L813.5 685.0L814.0 685.0L814.5 685.0L815.0 684.9L815.5 685.0L816.0 685.0L816.5 684.8L817.0 684.7L817.5 684.7L818.0 684.7L818.5 684.8L819.0 684.9L819.5 685.0L820.0 685.0L820.5 684.9L821.0 684.9L821.5 685.0L822.0 684.8L822.5 684.8L823.0 685.0L823.5 685.1L824.0 684.9L824.5 685.0L825.0 685.1L825.5 685.1L826.0 685.0L826.5 685.1L827.0 685.1L827.5 685.1L828.0 685.1L828.5 685.1L829.0 685.0L829.5 685.0L830.0 685.1L830.5 685.0L831.0 685.1L831.5 685.3L832.0 685.2L832.5 685.1L833.0 685.1L833.5 685.1L834.0 684.9L834.5 685.1L835.0 685.0L835.5 685.0L836.0 684.9L836.5 684.9L837.0 684.8L837.5 684.9L838.0 684.8L838.5 684.9L839.0 684.9L839.5 685.0L840.0 685.0L840.5 685.0L841.0 685.0L841.5 684.9L842.0 685.0L842.5 684.9L843.0 685.0L843.5 684.9L844.0 684.9L844.5 684.7L845.0 684.6L845.5 684.7L846.0 684.8L846.5 684.9L847.0 685.0L847.5 685.1L848.0 685.0L848.5 685.0L849.0 685.0L849.5 684.9L850.0 684.8L850.5 684.9L851.0 684.9L851.5 684.9L852.0 684.9L852.5 684.9L853.0 684.9L853.5 684.9L854.0 684.9L854.5 684.7L855.0 684.7L855.5 684.6L856.0 684.5L856.5 684.6L857.0 684.8L857.5 684.7L858.0 684.9L858.5 685.0L859.0 684.9L859.5 684.9L860.0 684.9L860.5 684.8L861.0 684.7L861.5 684.7L862.0 684.7L862.5 684.7L863.0 684.7L863.5 684.7L864.0 684.8L864.5 684.7L865.0 684.9L865.5 684.9L866.0 684.9L866.5 684.8L867.0 684.8L867.5 684.7L868.0 684.8L868.5 685.0L869.0 685.0L869.5 685.0L870.0 685.1L870.5 685.0L871.0 684.9L871.5 684.9L872.0 684.9L872.5 684.8L873.0 684.9L873.5 684.9L874.0 685.0L874.5 685.1L875.0 685.0L875.5 685.0L876.0 685.0L876.5 684.9L877.0 684.9L877.5 684.9L878.0 684.9L878.5 684.8L879.0 684.7L879.5 684.7L880.0 684.8L880.5 684.8L881.0 684.8L881.5 684.8L882.0 684.7L882.5 684.8L883.0 684.8L883.5 684.8L884.0 684.8L884.5 684.9L885.0 684.8L885.5 684.8L886.0 684.7L886.5 684.8L887.0 684.8L887.5 684.9L888.0 685.0L888.5 685.0L889.0 685.0L889.5 685.0L890.0 685.0L890.5 685.0L891.0 685.0L891.5 684.9L892.0 684.9L892.5 685.0L893.0 685.0L893.5 685.0L894.0 684.9L894.5 684.9L895.0 684.8L895.5 684.9L896.0 684.9L896.5 684.9L897.0 684.5L897.5 683.7L898.0 682.1L898.5 679.6L899.0 676.1L899.5 671.8L900.0 666.8L900.5 659.3L901.0 649.2L901.5 638.6L902.0 628.0L902.5 617.4L903.0 606.8L903.5 594.9L904.0 577.1L904.5 561.6L905.0 547.4L905.5 534.7L906.0 524.0L906.5 514.3L907.0 507.4L907.5 503.3L908.0 500.8L908.5 498.9L909.0 497.8L909.5 498.2L910.0 496.6L910.5 496.5L911.0 497.8L911.5 499.6L912.0 503.0L912.5 507.6L913.0 513.6L913.5 521.3L914.0 530.5L914.5 541.9L915.0 556.5L915.5 575.0L916.0 600.5L916.5 609.9L917.0 616.0L917.5 622.2L918.0 628.2L918.5 633.7L919.0 638.7L919.5 643.1L920.0 647.2L920.5 651.0L921.0 654.4L921.5 657.6L922.0 660.5L922.5 663.0L923.0 665.3L923.5 667.1L924.0 668.6L924.5 670.1L925.0 671.4L925.5 672.5L926.0 673.6L926.5 674.6L927.0 675.5L927.5 676.3L928.0 677.0L928.5 677.5L929.0 678.0L929.5 678.4L930.0 678.7L930.5 679.1L931.0 679.5L931.5 679.8L932.0 680.1L932.5 680.5L933.0 680.5L933.5 680.7L934.0 680.8L934.5 681.0L935.0 681.1L935.5 681.4L936.0 681.5L936.5 681.7L937.0 681.8L937.5 681.9L938.0 681.9L938.5 682.0L939.0 682.2L939.5 682.2L940.0 682.3L940.5 682.4L941.0 682.5L941.5 682.6L942.0 682.7L942.5 682.9L943.0 682.9L943.5 683.0L944.0 683.0L944.5 683.2L945.0 683.2L945.5 683.4L946.0 683.4L946.5 683.3L947.0 683.4L947.5 683.5L948.0 683.5L948.5 683.6L949.0 683.7L949.5 683.8L950.0 683.9L950.5 684.1L951.0 684.1L951.5 684.2L952.0 684.2L952.5 684.2L953.0 684.2L953.5 684.3L954.0 684.5L954.5 684.5L955.0 684.6L955.5 684.5L956.0 684.7L956.5 684.6L957.0 684.6L957.5 684.7L958.0 684.7L958.5 684.7L959.0 684.9L959.5 684.9L960.0 684.8L960.5 685.0L961.0 685.0L961.5 685.0L962.0 685.0L962.5 685.0L963.0 684.9L963.5 685.0L964.0 684.9L964.5 684.8L965.0 684.9L965.5 684.8L966.0 684.6L966.5 684.7L967.0 684.7L967.5 684.6L968.0 684.7L968.5 684.7L969.0 684.6L969.5 684.7L970.0 684.8L970.5 684.9L971.0 685.0L971.5 684.9L972.0 684.9L972.5 684.7L973.0 684.7L973.5 684.7L974.0 684.8L974.5 684.8L975.0 684.8L975.5 684.7L976.0 684.7L976.5 684.6L977.0 684.6L977.5 684.6L978.0 684.6L978.5 684.6L979.0 684.8L979.5 684.8L980.0 684.9L980.5 684.9L981.0 684.9L981.5 684.8L982.0 684.8L982.5 684.7L983.0 684.7L983.5 684.6L984.0 684.7L984.5 684.7L985.0 684.8L985.5 684.7L986.0 684.7L986.5 684.9L987.0 684.9L987.5 684.9L988.0 685.0L988.5 685.0L989.0 684.8L989.5 684.8L990.0 684.8L990.5 684.7L991.0 684.8L991.5 684.8L992.0 684.7L992.5 684.6L993.0 684.8L993.5 684.9L994.0 684.9L994.5 685.1L995.0 685.1L995.5 684.9L996.0 684.7L996.5 684.7L997.0 684.6L997.5 684.8L998.0 684.8L998.5 685.0L999.0 684.8L999.5 684.9L1000.0 684.8" fill="none" stroke="#ef3f45" stroke-width="1.15" stroke-linejoin="round"/>
<path d="M830.0 684.2L830.5 684.3L831.0 684.3L831.5 684.2L832.0 684.3L832.5 684.3L833.0 684.3L833.5 684.2L834.0 684.1L834.5 684.0L835.0 684.0L835.5 684.1L836.0 684.1L836.5 684.2L837.0 684.2L837.5 684.1L838.0 684.1L838.5 684.2L839.0 684.1L839.5 684.3L840.0 684.4L840.5 684.3L841.0 684.3L841.5 684.3L842.0 684.2L842.5 684.1L843.0 684.1L843.5 684.1L844.0 684.1L844.5 684.2L845.0 684.2L845.5 684.3L846.0 684.3L846.5 684.2L847.0 684.3L847.5 684.3L848.0 684.3L848.5 684.3L849.0 684.5L849.5 684.4L850.0 684.4L850.5 684.3L851.0 684.3L851.5 684.1L852.0 684.1L852.5 684.1L853.0 684.2L853.5 684.3L854.0 684.3L854.5 684.2L855.0 684.2L855.5 684.2L856.0 684.2L856.5 684.2L857.0 684.3L857.5 684.3L858.0 684.4L858.5 684.4L859.0 684.3L859.5 684.2L860.0 684.1L860.5 684.1L861.0 684.1L861.5 684.2L862.0 684.1L862.5 684.1L863.0 684.0L863.5 684.1L864.0 684.1L864.5 684.2L865.0 684.2L865.5 684.3L866.0 684.2L866.5 684.2L867.0 684.2L867.5 684.3L868.0 684.3L868.5 684.3L869.0 684.3L869.5 684.4L870.0 684.4L870.5 684.4L871.0 684.4L871.5 684.3L872.0 684.3L872.5 684.3L873.0 684.3L873.5 684.3L874.0 684.4L874.5 684.4L875.0 684.4L875.5 684.4L876.0 684.4L876.5 684.4L877.0 684.2L877.5 684.4L878.0 684.4L878.5 684.3L879.0 684.3L879.5 684.3L880.0 684.2L880.5 684.2L881.0 684.2L881.5 684.1L882.0 684.2L882.5 684.2L883.0 684.2L883.5 684.2L884.0 684.3L884.5 684.3L885.0 684.3L885.5 684.2L886.0 684.2L886.5 684.3L887.0 684.3L887.5 684.3L888.0 684.5L888.5 684.4L889.0 684.4L889.5 684.3L890.0 684.4L890.5 684.4L891.0 684.4L891.5 684.4L892.0 684.4L892.5 684.3L893.0 684.4L893.5 684.6L894.0 684.6L894.5 684.6L895.0 684.6L895.5 684.6L896.0 684.3L896.5 684.3L897.0 684.3L897.5 684.3L898.0 684.3L898.5 684.4L899.0 684.4L899.5 684.4L900.0 684.4L900.5 684.3L901.0 684.2L901.5 684.3L902.0 684.3L902.5 684.4L903.0 684.4L903.5 684.4L904.0 684.3L904.5 684.3L905.0 684.4L905.5 684.5L906.0 684.4L906.5 684.5L907.0 684.5L907.5 684.6L908.0 684.4L908.5 684.4L909.0 684.5L909.5 684.5L910.0 684.3L910.5 684.4L911.0 684.4L911.5 684.5L912.0 684.5L912.5 684.5L913.0 684.5L913.5 684.6L914.0 684.5L914.5 684.4L915.0 684.4L915.5 684.4L916.0 684.3L916.5 684.2L917.0 684.2L917.5 684.2L918.0 684.2L918.5 684.3L919.0 684.3L919.5 684.4L920.0 684.4L920.5 684.5L921.0 684.3L921.5 684.2L922.0 684.3L922.5 684.4L923.0 684.4L923.5 684.4L924.0 684.5L924.5 684.4L925.0 684.4L925.5 684.3L926.0 684.3L926.5 684.3L927.0 684.3L927.5 684.3L928.0 684.4L928.5 684.3L929.0 684.4L929.5 684.4L930.0 684.4L930.5 684.3L931.0 684.3L931.5 684.3L932.0 684.3L932.5 684.3L933.0 684.4L933.5 684.3L934.0 684.4L934.5 684.5L935.0 684.4L935.5 684.4L936.0 684.4L936.5 684.5L937.0 684.5L937.5 684.6L938.0 684.6L938.5 684.5L939.0 684.5L939.5 684.4L940.0 684.3L940.5 684.4L941.0 684.3L941.5 684.4L942.0 684.5L942.5 684.5L943.0 684.5L943.5 684.6L944.0 684.6L944.5 684.6L945.0 684.6L945.5 684.5L946.0 684.6L946.5 684.6L947.0 684.6L947.5 684.6L948.0 684.5L948.5 684.5L949.0 684.4L949.5 684.6L950.0 684.5L950.5 684.6L951.0 684.6L951.5 684.6L952.0 684.5L952.5 684.5L953.0 684.5L953.5 684.5L954.0 684.5L954.5 684.5L955.0 684.5L955.5 684.6L956.0 684.6L956.5 684.7L957.0 684.7L957.5 684.7L958.0 684.7L958.5 684.6L959.0 683.7L959.5 683.0L960.0 681.7L960.5 679.7L961.0 677.1L961.5 673.8L962.0 669.6L962.5 664.4L963.0 658.4L963.5 651.1L964.0 642.1L964.5 632.5L965.0 623.8L965.5 615.8L966.0 608.3L966.5 601.7L967.0 594.4L967.5 586.4L968.0 578.4L968.5 571.3L969.0 565.9L969.5 561.4L970.0 557.8L970.5 554.8L971.0 552.5L971.5 551.4L972.0 551.7L972.5 552.7L973.0 554.1L973.5 555.7L974.0 558.2L974.5 561.3L975.0 565.1L975.5 569.3L976.0 574.8L976.5 582.5L977.0 590.7L977.5 597.8L978.0 602.9L978.5 607.1L979.0 611.1L979.5 615.8L980.0 620.9L980.5 626.0L981.0 630.9L981.5 635.7L982.0 640.3L982.5 644.8L983.0 648.8L983.5 652.3L984.0 655.6L984.5 658.3L985.0 660.9L985.5 663.2L986.0 665.3L986.5 667.2L987.0 669.0L987.5 670.6L988.0 672.1L988.5 673.4L989.0 674.5L989.5 675.4L990.0 676.2L990.5 676.9L991.0 677.5L991.5 678.1L992.0 678.5L992.5 678.9L993.0 679.3L993.5 679.4L994.0 679.5L994.5 679.8L995.0 680.1L995.5 680.3L996.0 680.7L996.5 681.0L997.0 681.2L997.5 681.4L998.0 681.6L998.5 681.7L999.0 681.8L999.5 682.0L1000.0 682.1L1000.5 682.1L1001.0 682.2L1001.5 682.3L1002.0 682.4L1002.5 682.6L1003.0 682.7L1003.5 682.9L1004.0 682.9L1004.5 683.0L1005.0 683.0L1005.5 683.0L1006.0 683.2L1006.5 683.3L1007.0 683.4L1007.5 683.5L1008.0 683.6L1008.5 683.5L1009.0 683.6L1009.5 683.7L1010.0 683.8L1010.5 683.9L1011.0 683.9L1011.5 684.0L1012.0 684.1L1012.5 684.1L1013.0 684.0L1013.5 684.1L1014.0 684.0L1014.5 684.0L1015.0 684.0L1015.5 684.3L1016.0 684.3L1016.5 684.4L1017.0 684.4L1017.5 684.5L1018.0 684.5L1018.5 684.5L1019.0 684.5L1019.5 684.6L1020.0 684.4L1020.5 684.4L1021.0 684.4L1021.5 684.3L1022.0 684.4L1022.5 684.5L1023.0 684.5L1023.5 684.5L1024.0 684.6L1024.5 684.5L1025.0 684.5L1025.5 684.5L1026.0 684.5L1026.5 684.5L1027.0 684.5L1027.5 684.4L1028.0 684.3L1028.5 684.4L1029.0 684.4L1029.5 684.4L1030.0 684.5L1030.5 684.8L1031.0 684.7L1031.5 684.7L1032.0 684.7L1032.5 684.7L1033.0 684.7L1033.5 684.8L1034.0 684.7L1034.5 684.7L1035.0 684.7L1035.5 684.7L1036.0 684.6L1036.5 684.7L1037.0 684.7L1037.5 684.7L1038.0 684.6L1038.5 684.6L1039.0 684.6L1039.5 684.6L1040.0 684.7L1040.5 684.7L1041.0 684.8L1041.5 684.8L1042.0 684.7L1042.5 684.6L1043.0 684.7L1043.5 684.6L1044.0 684.6L1044.5 684.7L1045.0 684.7L1045.5 684.7L1046.0 684.7L1046.5 684.8L1047.0 684.8L1047.5 684.8L1048.0 684.8L1048.5 684.8L1049.0 684.7L1049.5 684.7L1050.0 684.8L1050.5 684.9L1051.0 684.9L1051.5 684.9L1052.0 684.8L1052.5 684.8L1053.0 684.8L1053.5 684.8L1054.0 684.9L1054.5 684.9L1055.0 684.9L1055.5 684.9L1056.0 684.9L1056.5 684.9L1057.0 684.9L1057.5 684.8L1058.0 684.8L1058.5 684.8L1059.0 684.8L1059.5 684.7L1060.0 684.7L1060.5 684.8L1061.0 684.7L1061.5 684.8L1062.0 684.9L1062.5 684.9L1063.0 684.8L1063.5 684.8L1064.0 684.9L1064.5 684.8L1065.0 684.8L1065.5 684.9L1066.0 684.9L1066.5 684.9L1067.0 684.9L1067.5 684.8L1068.0 684.8L1068.5 684.8L1069.0 684.8L1069.5 684.8L1070.0 684.9L1070.5 684.9L1071.0 684.8L1071.5 684.7L1072.0 684.7L1072.5 684.7L1073.0 684.7L1073.5 684.7L1074.0 684.7L1074.5 684.8L1075.0 684.8L1075.5 684.8L1076.0 684.8L1076.5 684.8L1077.0 684.8L1077.5 684.8L1078.0 684.8L1078.5 684.8L1079.0 684.9L1079.5 684.8L1080.0 684.9L1080.5 684.9L1081.0 685.0L1081.5 685.0L1082.0 685.0L1082.5 685.0L1083.0 685.0L1083.5 685.0L1084.0 684.9L1084.5 685.0L1085.0 685.0L1085.5 684.9L1086.0 685.0L1086.5 685.0L1087.0 685.0L1087.5 685.0L1088.0 685.0L1088.5 685.0L1089.0 685.0L1089.5 685.1L1090.0 685.1L1090.5 685.0L1091.0 685.0L1091.5 684.9L1092.0 684.8L1092.5 684.8L1093.0 684.9L1093.5 684.9L1094.0 684.9L1094.5 685.0L1095.0 684.9L1095.5 684.9L1096.0 684.9L1096.5 684.9L1097.0 684.8L1097.5 684.9L1098.0 684.9" fill="none" stroke="#303030" stroke-width="1.1" stroke-linejoin="round"/>
<path d="M960.0 685.2L960.5 685.2L961.0 685.3L961.5 685.3L962.0 685.2L962.5 685.3L963.0 685.2L963.5 685.2L964.0 685.3L964.5 685.3L965.0 685.2L965.5 685.2L966.0 685.2L966.5 685.1L967.0 685.1L967.5 685.2L968.0 685.1L968.5 685.2L969.0 685.2L969.5 685.2L970.0 685.2L970.5 685.1L971.0 685.1L971.5 685.1L972.0 685.1L972.5 685.1L973.0 685.2L973.5 685.2L974.0 685.2L974.5 685.2L975.0 685.2L975.5 685.2L976.0 685.2L976.5 685.2L977.0 685.2L977.5 685.3L978.0 685.3L978.5 685.2L979.0 685.2L979.5 685.2L980.0 685.1L980.5 685.2L981.0 685.2L981.5 685.2L982.0 685.2L982.5 685.2L983.0 685.2L983.5 685.2L984.0 685.2L984.5 685.1L985.0 685.2L985.5 685.1L986.0 685.1L986.5 685.1L987.0 685.1L987.5 685.1L988.0 685.1L988.5 685.1L989.0 685.1L989.5 685.2L990.0 685.2L990.5 685.2L991.0 685.2L991.5 685.3L992.0 685.2L992.5 685.2L993.0 685.2L993.5 685.1L994.0 685.1L994.5 685.1L995.0 685.0L995.5 685.0L996.0 685.0L996.5 685.0L997.0 685.0L997.5 685.1L998.0 685.1L998.5 685.1L999.0 685.1L999.5 685.1L1000.0 685.1L1000.5 685.1L1001.0 685.2L1001.5 685.2L1002.0 685.2L1002.5 685.2L1003.0 685.3L1003.5 685.2L1004.0 685.2L1004.5 685.2L1005.0 685.2L1005.5 685.1L1006.0 685.2L1006.5 685.1L1007.0 685.1L1007.5 685.1L1008.0 685.1L1008.5 685.0L1009.0 685.1L1009.5 685.1L1010.0 685.2L1010.5 685.2L1011.0 685.3L1011.5 685.2L1012.0 685.2L1012.5 685.2L1013.0 685.2L1013.5 685.2L1014.0 685.1L1014.5 685.1L1015.0 685.0L1015.5 685.1L1016.0 685.1L1016.5 685.1L1017.0 685.1L1017.5 685.2L1018.0 685.2L1018.5 685.1L1019.0 685.2L1019.5 685.1L1020.0 685.1L1020.5 685.1L1021.0 685.1L1021.5 685.1L1022.0 685.0L1022.5 685.1L1023.0 685.1L1023.5 685.1L1024.0 685.2L1024.5 685.2L1025.0 685.2L1025.5 685.1L1026.0 685.1L1026.5 685.1L1027.0 685.1L1027.5 685.1L1028.0 685.2L1028.5 685.2L1029.0 684.7L1029.5 684.2L1030.0 683.3L1030.5 681.7L1031.0 679.6L1031.5 677.3L1032.0 675.1L1032.5 672.7L1033.0 670.3L1033.5 667.8L1034.0 665.1L1034.5 662.2L1035.0 659.3L1035.5 656.2L1036.0 652.9L1036.5 649.3L1037.0 645.2L1037.5 640.4L1038.0 635.2L1038.5 630.0L1039.0 625.4L1039.5 622.0L1040.0 619.2L1040.5 616.9L1041.0 615.0L1041.5 613.3L1042.0 611.9L1042.5 610.9L1043.0 610.3L1043.5 610.0L1044.0 609.7L1044.5 609.7L1045.0 609.9L1045.5 610.3L1046.0 610.8L1046.5 611.5L1047.0 612.6L1047.5 614.1L1048.0 615.6L1048.5 617.5L1049.0 619.5L1049.5 621.7L1050.0 624.0L1050.5 626.2L1051.0 628.4L1051.5 630.8L1052.0 633.1L1052.5 635.4L1053.0 637.7L1053.5 640.0L1054.0 642.1L1054.5 644.3L1055.0 646.4L1055.5 648.4L1056.0 650.5L1056.5 652.5L1057.0 654.5L1057.5 656.5L1058.0 658.3L1058.5 660.0L1059.0 661.7L1059.5 663.2L1060.0 664.6L1060.5 665.9L1061.0 667.1L1061.5 668.2L1062.0 669.4L1062.5 670.4L1063.0 671.3L1063.5 672.2L1064.0 673.1L1064.5 673.8L1065.0 674.5L1065.5 675.2L1066.0 675.8L1066.5 676.4L1067.0 676.9L1067.5 677.5L1068.0 677.9L1068.5 678.4L1069.0 678.8L1069.5 679.2L1070.0 679.5L1070.5 679.8L1071.0 680.1L1071.5 680.4L1072.0 680.7L1072.5 681.0L1073.0 681.3L1073.5 681.5L1074.0 681.7L1074.5 681.9L1075.0 682.0L1075.5 682.2L1076.0 682.4L1076.5 682.5L1077.0 682.7L1077.5 682.8L1078.0 682.9L1078.5 683.1L1079.0 683.1L1079.5 683.3L1080.0 683.4L1080.5 683.5L1081.0 683.6L1081.5 683.6L1082.0 683.7L1082.5 683.7L1083.0 683.8L1083.5 683.9L1084.0 683.9L1084.5 684.0L1085.0 684.1L1085.5 684.1L1086.0 684.1L1086.5 684.2L1087.0 684.3L1087.5 684.3L1088.0 684.4L1088.5 684.4L1089.0 684.4L1089.5 684.4L1090.0 684.4L1090.5 684.5L1091.0 684.5L1091.5 684.5L1092.0 684.5L1092.5 684.9L1093.0 684.9L1093.5 684.9L1094.0 685.0L1094.5 685.0L1095.0 685.0L1095.5 685.0L1096.0 685.0L1096.5 685.0L1097.0 685.0L1097.5 685.0L1098.0 685.1L1098.5 685.0L1099.0 685.0L1099.5 685.0L1100.0 685.0L1100.5 685.0L1101.0 685.0L1101.5 685.0L1102.0 685.0L1102.5 685.0L1103.0 685.0L1103.5 685.0L1104.0 685.0L1104.5 684.9L1105.0 685.0L1105.5 685.0L1106.0 685.0L1106.5 685.0L1107.0 685.0L1107.5 685.0L1108.0 685.0L1108.5 685.0L1109.0 685.0L1109.5 685.0L1110.0 685.0L1110.5 685.0L1111.0 685.0L1111.5 685.1L1112.0 685.1L1112.5 685.1L1113.0 685.0L1113.5 685.0L1114.0 685.0L1114.5 685.0L1115.0 685.0L1115.5 685.1L1116.0 685.1L1116.5 685.1L1117.0 685.1L1117.5 685.1L1118.0 685.0L1118.5 684.9L1119.0 684.9L1119.5 685.0L1120.0 685.0L1120.5 685.1L1121.0 685.1L1121.5 685.1L1122.0 685.1L1122.5 685.1L1123.0 685.0L1123.5 685.1L1124.0 685.1L1124.5 685.0L1125.0 685.1L1125.5 685.1L1126.0 685.0L1126.5 685.0L1127.0 685.1L1127.5 685.1L1128.0 685.2L1128.5 685.2L1129.0 685.1L1129.5 685.1L1130.0 685.1L1130.5 685.0L1131.0 685.0L1131.5 685.1L1132.0 685.1L1132.5 685.1L1133.0 685.1L1133.5 685.2L1134.0 685.1L1134.5 685.1L1135.0 685.1L1135.5 685.1L1136.0 685.1L1136.5 685.1L1137.0 685.1L1137.5 685.1L1138.0 685.1L1138.5 685.1L1139.0 685.1L1139.5 685.1L1140.0 685.0L1140.5 685.0L1141.0 685.0L1141.5 685.0L1142.0 685.0L1142.5 685.1L1143.0 685.1L1143.5 685.1L1144.0 685.1L1144.5 685.1L1145.0 685.1L1145.5 685.0L1146.0 685.1L1146.5 685.1L1147.0 685.1L1147.5 685.1L1148.0 685.1L1148.5 685.1L1149.0 685.1L1149.5 685.1L1150.0 685.1L1150.5 685.0L1151.0 685.0L1151.5 685.1L1152.0 685.1L1152.5 685.1L1153.0 685.1L1153.5 685.1L1154.0 685.1L1154.5 685.1L1155.0 685.1L1155.5 685.2L1156.0 685.1L1156.5 685.2L1157.0 685.1L1157.5 685.1L1158.0 685.1L1158.5 685.1L1159.0 685.1L1159.5 685.1L1160.0 685.1L1160.5 685.1L1161.0 685.1L1161.5 685.1L1162.0 685.1L1162.5 685.1L1163.0 685.2L1163.5 685.2L1164.0 685.2L1164.5 685.2L1165.0 685.2L1165.5 685.2L1166.0 685.2L1166.5 685.3L1167.0 685.3L1167.5 685.3L1168.0 685.2L1168.5 685.2L1169.0 685.2L1169.5 685.1L1170.0 685.1L1170.5 685.1L1171.0 685.1L1171.5 685.2L1172.0 685.2L1172.5 685.2L1173.0 685.2L1173.5 685.2L1174.0 685.2L1174.5 685.2L1175.0 685.1L1175.5 685.2L1176.0 685.2L1176.5 685.2L1177.0 685.2L1177.5 685.2L1178.0 685.2L1178.5 685.1L1179.0 685.1L1179.5 685.3L1180.0 685.3L1180.5 685.2L1181.0 685.2" fill="none" stroke="#d36cba" stroke-width="1.15" stroke-linejoin="round"/>
<path d="M419.0 685.0L420.0 685.0L421.0 684.9L422.0 684.9L423.0 684.9L424.0 684.9L425.0 685.0L426.0 685.0L427.0 685.0L428.0 685.0L429.0 685.0L430.0 685.1L431.0 685.1L432.0 685.1L433.0 685.0L434.0 684.9L435.0 684.9L436.0 684.9L437.0 685.0L438.0 685.0L439.0 685.0L440.0 684.9L441.0 685.0L442.0 685.0L443.0 685.0L444.0 685.0L445.0 684.9L446.0 684.9L447.0 684.9L448.0 685.1L449.0 685.1L450.0 685.0L451.0 684.9L452.0 684.9L453.0 684.9L454.0 684.9L455.0 684.9L456.0 684.9L457.0 685.0L458.0 684.9" fill="none" stroke="#2b93a3" stroke-width="1.5"/>
<path d="M458.0 685.0L459.0 685.0L460.0 685.0L461.0 685.1L462.0 685.1L463.0 685.1L464.0 685.0L465.0 685.1L466.0 685.0L467.0 685.0L468.0 685.0L469.0 684.9L470.0 685.0L471.0 684.9L472.0 685.0L473.0 684.9L474.0 684.9L475.0 684.9L476.0 684.9L477.0 685.0L478.0 685.0L479.0 685.0L480.0 684.9L481.0 685.0L482.0 685.0L483.0 685.1L484.0 685.1L485.0 685.0L486.0 685.0" fill="none" stroke="#2a48a6" stroke-width="1.6"/>
<path d="M485.0 685.2L486.0 685.3L487.0 685.4L488.0 685.5L489.0 685.4L490.0 685.4L491.0 685.3L492.0 685.2L493.0 685.3L494.0 685.3L495.0 685.2L496.0 685.2L497.0 685.3L498.0 685.3L499.0 685.4L500.0 685.2L501.0 685.2L502.0 685.2L503.0 685.3L504.0 685.2L505.0 685.2L506.0 685.2L507.0 685.4L508.0 685.3L509.0 685.4L510.0 685.3L511.0 685.3L512.0 685.2L513.0 685.2L514.0 685.4L515.0 685.3L516.0 685.3L517.0 685.4L518.0 685.4L519.0 685.5L520.0 685.5L521.0 685.5L522.0 685.5L523.0 685.5L524.0 685.5L525.0 685.4L526.0 685.4L527.0 685.5L528.0 685.5L529.0 685.5L530.0 685.3L531.0 685.3L532.0 685.3L533.0 685.3L534.0 685.2L535.0 685.2L536.0 685.2L537.0 685.3L538.0 685.3L539.0 685.4L540.0 685.5L541.0 685.5L542.0 685.4L543.0 685.3L544.0 685.2L545.0 685.2L546.0 685.2L547.0 685.2L548.0 685.2L549.0 685.4L550.0 685.4L551.0 685.4L552.0 685.3L553.0 685.3L554.0 685.2L555.0 685.2L556.0 685.3L557.0 685.5L558.0 685.5L559.0 685.3L560.0 685.4L561.0 685.3L562.0 685.4L563.0 685.4L564.0 685.3L565.0 685.4L566.0 685.4L567.0 685.4L568.0 685.4L569.0 685.4L570.0 685.4L571.0 685.4L572.0 685.3L573.0 685.4L574.0 685.3L575.0 685.2L576.0 685.2L577.0 685.2L578.0 685.3L579.0 685.4L580.0 685.3L581.0 685.3L582.0 685.1L583.0 685.2L584.0 685.1L585.0 685.1L586.0 685.1L587.0 685.1L588.0 685.3L589.0 685.4L590.0 685.3L591.0 685.4L592.0 685.4L593.0 685.4L594.0 685.4L595.0 685.4L596.0 685.5L597.0 685.4L598.0 685.4L599.0 685.5L600.0 685.4L601.0 685.3L602.0 685.4L603.0 685.4L604.0 685.4L605.0 685.3L606.0 685.3L607.0 685.3L608.0 685.4L609.0 685.4L610.0 685.4L611.0 685.3L612.0 685.3L613.0 685.4L614.0 685.5L615.0 685.5L616.0 685.5" fill="none" stroke="#27408f" stroke-width="1.3"/>
<path d="M485.0 684.7L486.0 684.7L487.0 684.7L488.0 684.8L489.0 684.7L490.0 684.6L491.0 684.5L492.0 684.5L493.0 684.6L494.0 684.5L495.0 684.6L496.0 684.6L497.0 684.5L498.0 684.5L499.0 684.5L500.0 684.5L501.0 684.4L502.0 684.3L503.0 684.4L504.0 684.4L505.0 684.5L506.0 684.7L507.0 684.7L508.0 684.7L509.0 684.7L510.0 684.7L511.0 684.6L512.0 684.6L513.0 684.5L514.0 684.5L515.0 684.4L516.0 684.4L517.0 684.4L518.0 684.3L519.0 684.4L520.0 684.4L521.0 684.5L522.0 684.5L523.0 684.5L524.0 684.5L525.0 684.5L526.0 684.3L527.0 684.2L528.0 684.1L529.0 684.3L530.0 684.3L531.0 684.5L532.0 684.5L533.0 684.6L534.0 684.6L535.0 684.7L536.0 684.8L537.0 684.8L538.0 684.7L539.0 684.6L540.0 684.5L541.0 684.4L542.0 684.4L543.0 684.2L544.0 684.4L545.0 684.5L546.0 684.6L547.0 684.4L548.0 684.4L549.0 684.4L550.0 684.4L551.0 684.3L552.0 684.2L553.0 684.2L554.0 684.3L555.0 684.6L556.0 684.7L557.0 684.8L558.0 684.7L559.0 684.6L560.0 684.4L561.0 684.4L562.0 684.2L563.0 684.3L564.0 684.4L565.0 684.6L566.0 684.7L567.0 684.5L568.0 684.4L569.0 684.3L570.0 684.3L571.0 684.5L572.0 684.6L573.0 684.6L574.0 684.5L575.0 684.4L576.0 684.4L577.0 684.3L578.0 684.4L579.0 684.4L580.0 684.5L581.0 684.4L582.0 684.4L583.0 684.2L584.0 684.4L585.0 684.3L586.0 684.4L587.0 684.3L588.0 684.4L589.0 684.3L590.0 684.2L591.0 684.4L592.0 684.5L593.0 684.6L594.0 684.6L595.0 684.6L596.0 684.6L597.0 684.5L598.0 684.6L599.0 684.6L600.0 684.6L601.0 684.5L602.0 684.5L603.0 684.5L604.0 684.4L605.0 684.4L606.0 684.3L607.0 684.4L608.0 684.3L609.0 684.3L610.0 684.3L611.0 684.4L612.0 684.3L613.0 684.3L614.0 684.3L615.0 684.2L616.0 684.2" fill="none" stroke="#2a9a80" stroke-width="1.2"/>
<path d="M616.0 684.9L617.0 685.0L618.0 685.0L619.0 685.0L620.0 684.8L621.0 684.8L622.0 684.8L623.0 684.8L624.0 684.8L625.0 684.9L626.0 684.9L627.0 685.0L628.0 684.9L629.0 684.9L630.0 684.9L631.0 685.0L632.0 685.0L633.0 684.8L634.0 684.8L635.0 684.8L636.0 685.1L637.0 685.0L638.0 684.9L639.0 684.9L640.0 684.8L641.0 684.8L642.0 684.8L643.0 684.8L644.0 685.0L645.0 685.0L646.0 684.9L647.0 685.0" fill="none" stroke="#6233a3" stroke-width="1.6"/>
<path d="M647.0 684.7L648.0 684.8L649.0 685.1L650.0 685.0L651.0 684.9L652.0 684.8L653.0 684.5L654.0 684.7L655.0 684.8L656.0 685.0L657.0 684.8L658.0 684.8L659.0 685.0L660.0 685.1L661.0 685.1L662.0 684.8L663.0 684.5L664.0 684.4L665.0 684.5L666.0 684.7L667.0 684.8L668.0 684.9L669.0 685.0L670.0 685.0L671.0 685.0L672.0 684.9L673.0 684.9L674.0 684.9L675.0 684.6L676.0 684.8L677.0 684.5L678.0 684.9L679.0 684.7L680.0 685.1L681.0 684.9L682.0 684.8L683.0 684.8L684.0 684.8L685.0 685.0L686.0 684.8L687.0 684.9L688.0 685.0L689.0 685.1L690.0 684.7L691.0 684.5L692.0 684.5L693.0 685.0L694.0 685.1L695.0 685.1L696.0 685.0L697.0 684.9L698.0 684.9L699.0 684.8L700.0 684.6L701.0 684.7L702.0 684.8L703.0 684.9L704.0 684.6L705.0 684.6L706.0 684.8L707.0 684.9L708.0 684.7" fill="none" stroke="#a3222e" stroke-width="1.6"/>
<path d="M708.0 684.8L709.0 684.8L710.0 684.9L711.0 684.9L712.0 685.0L713.0 685.0L714.0 685.0L715.0 684.9L716.0 685.0L717.0 685.1L718.0 685.2L719.0 685.2L720.0 684.9L721.0 684.8L722.0 684.7L723.0 684.9L724.0 684.9L725.0 685.0L726.0 685.0L727.0 685.1L728.0 685.0L729.0 685.0L730.0 685.0L731.0 685.0L732.0 685.0L733.0 684.9L734.0 684.9L735.0 684.9L736.0 684.9L737.0 685.0L738.0 685.0L739.0 685.1L740.0 685.1L741.0 685.1L742.0 685.0L743.0 685.0L744.0 685.1L745.0 685.0" fill="none" stroke="#5a2f9e" stroke-width="1.5"/>
<path d="M745.0 685.0L746.0 684.9L747.0 685.0L748.0 684.9L749.0 684.9L750.0 685.0L751.0 685.0L752.0 685.0L753.0 685.0L754.0 684.9L755.0 685.0L756.0 684.9L757.0 685.1L758.0 685.0L759.0 685.1L760.0 685.0L761.0 685.1L762.0 685.0L763.0 685.1L764.0 685.0L765.0 685.1L766.0 685.0L767.0 685.0L768.0 685.0L769.0 685.0L770.0 684.9L771.0 684.8L772.0 684.9L773.0 684.9L774.0 685.0L775.0 684.9L776.0 685.0L777.0 685.0L778.0 685.0L779.0 685.0L780.0 684.9L781.0 684.9L782.0 685.0L783.0 685.1L784.0 685.1L785.0 685.1L786.0 685.0L787.0 684.9L788.0 684.9L789.0 685.0L790.0 685.0L791.0 685.0L792.0 685.0L793.0 685.1L794.0 685.1L795.0 685.0L796.0 684.9L797.0 684.9L798.0 684.8L799.0 684.9L800.0 684.9L801.0 684.9L802.0 684.9L803.0 684.9L804.0 684.9L805.0 685.0L806.0 685.0L807.0 685.1L808.0 685.0L809.0 685.0L810.0 685.0L811.0 685.0L812.0 684.9L813.0 684.9L814.0 684.9L815.0 685.0L816.0 685.0L817.0 685.0L818.0 685.0L819.0 685.0L820.0 684.9L821.0 684.8L822.0 684.8L823.0 684.9L824.0 684.9L825.0 685.0L826.0 685.0L827.0 685.0L828.0 684.9L829.0 684.8L830.0 684.9L831.0 685.0L832.0 685.0L833.0 685.1L834.0 684.9L835.0 685.0L836.0 685.0" fill="none" stroke="#e2224c" stroke-width="1.5"/>
<path d="M836.0 685.0L837.0 684.9L838.0 684.8L839.0 684.9L840.0 685.0L841.0 685.0L842.0 685.0L843.0 685.0L844.0 685.1L845.0 685.0L846.0 685.1L847.0 685.0L848.0 685.1L849.0 685.0L850.0 685.0L851.0 685.0L852.0 685.0L853.0 685.0L854.0 685.0L855.0 684.9L856.0 684.9L857.0 684.9L858.0 685.0L859.0 685.0L860.0 685.0L861.0 685.1L862.0 685.1L863.0 685.0L864.0 684.9L865.0 684.9L866.0 684.9L867.0 685.0L868.0 685.1L869.0 685.1L870.0 685.1L871.0 685.0L872.0 685.0L873.0 685.0L874.0 685.1L875.0 685.1L876.0 685.1L877.0 684.9L878.0 684.9L879.0 684.9L880.0 684.9L881.0 684.9L882.0 684.9L883.0 685.0L884.0 685.0L885.0 685.0L886.0 685.1L887.0 685.1L888.0 685.1L889.0 685.1L890.0 685.1L891.0 685.1L892.0 685.0L893.0 685.1L894.0 684.9L895.0 684.9L896.0 684.9L897.0 685.0L898.0 685.0L899.0 685.1L900.0 685.1L901.0 685.1L902.0 685.0L903.0 685.1L904.0 685.0L905.0 685.0L906.0 685.0L907.0 685.0L908.0 685.0L909.0 685.0L910.0 684.9L911.0 685.0L912.0 685.0L913.0 685.0L914.0 684.9L915.0 684.9L916.0 684.9L917.0 685.0L918.0 685.0L919.0 685.0L920.0 685.0L921.0 684.9L922.0 684.8" fill="none" stroke="#1d1030" stroke-width="1.6"/>
<path d="M921.0 684.8L922.0 684.9L923.0 684.9L924.0 685.0L925.0 684.9L926.0 684.9L927.0 684.9L928.0 684.9L929.0 685.0L930.0 685.1L931.0 685.1L932.0 685.1L933.0 685.1L934.0 685.0L935.0 685.0L936.0 685.0L937.0 685.0L938.0 685.0L939.0 685.0L940.0 685.0L941.0 684.9L942.0 685.0L943.0 685.0L944.0 685.0L945.0 684.9L946.0 684.9L947.0 684.9L948.0 684.9L949.0 685.0L950.0 685.0L951.0 685.0L952.0 685.0L953.0 684.9L954.0 685.0L955.0 685.0L956.0 685.0L957.0 685.0L958.0 684.9L959.0 684.9L960.0 684.9" fill="none" stroke="#d81f4e" stroke-width="1.6"/>
<path d="M960.0 685.0L961.0 684.9L962.0 684.8L963.0 684.8L964.0 684.8L965.0 684.9L966.0 684.8L967.0 684.9L968.0 684.9L969.0 684.9L970.0 685.0L971.0 685.0L972.0 685.1L973.0 685.0L974.0 685.0L975.0 685.1L976.0 685.0L977.0 684.9L978.0 684.9L979.0 684.9L980.0 685.0L981.0 685.0L982.0 685.0L983.0 684.9L984.0 685.0L985.0 685.1L986.0 685.1L987.0 685.2L988.0 685.1L989.0 685.1L990.0 685.0L991.0 685.0L992.0 685.0L993.0 684.9L994.0 684.9L995.0 684.9L996.0 684.9L997.0 684.8L998.0 684.9L999.0 684.9L1000.0 685.0" fill="none" stroke="#ee1530" stroke-width="1.6"/>
<path d="M1000.0 685.0L1001.0 685.0L1002.0 685.0L1003.0 685.1L1004.0 685.0L1005.0 685.0L1006.0 685.0L1007.0 685.0L1008.0 684.9L1009.0 684.9L1010.0 684.9L1011.0 685.0L1012.0 685.0L1013.0 685.0L1014.0 685.0L1015.0 685.1L1016.0 685.0L1017.0 685.0L1018.0 685.0L1019.0 685.0L1020.0 684.9L1021.0 684.9L1022.0 685.0L1023.0 685.0L1024.0 685.0L1025.0 685.0L1026.0 685.0L1027.0 685.0L1028.0 685.0L1029.0 685.0" fill="none" stroke="#ee22a0" stroke-width="1.4"/>
<path d="M1029.0 685.2L1030.0 685.2L1031.0 685.3L1032.0 685.2L1033.0 685.3L1034.0 685.2L1035.0 685.3L1036.0 685.3L1037.0 685.3L1038.0 685.2L1039.0 685.2L1040.0 685.3L1041.0 685.3L1042.0 685.3L1043.0 685.3L1044.0 685.3L1045.0 685.3L1046.0 685.2L1047.0 685.2L1048.0 685.2L1049.0 685.3L1050.0 685.3L1051.0 685.2L1052.0 685.2L1053.0 685.2L1054.0 685.2L1055.0 685.2L1056.0 685.2L1057.0 685.2L1058.0 685.2L1059.0 685.3L1060.0 685.3L1061.0 685.3L1062.0 685.3L1063.0 685.3L1064.0 685.3L1065.0 685.2L1066.0 685.3L1067.0 685.3L1068.0 685.3L1069.0 685.2L1070.0 685.2L1071.0 685.2L1072.0 685.2L1073.0 685.3L1074.0 685.3L1075.0 685.2L1076.0 685.2L1077.0 685.2L1078.0 685.2L1079.0 685.2L1080.0 685.3L1081.0 685.4L1082.0 685.3L1083.0 685.2L1084.0 685.2L1085.0 685.2L1086.0 685.2L1087.0 685.3L1088.0 685.3L1089.0 685.2L1090.0 685.2L1091.0 685.2L1092.0 685.3L1093.0 685.2L1094.0 685.2L1095.0 685.2L1096.0 685.2L1097.0 685.2L1098.0 685.2" fill="none" stroke="#a32430" stroke-width="0.9"/>
<path d="M1029.0 684.5L1030.0 684.5L1031.0 684.5L1032.0 684.5L1033.0 684.5L1034.0 684.4L1035.0 684.4L1036.0 684.4L1037.0 684.6L1038.0 684.6L1039.0 684.5L1040.0 684.4L1041.0 684.5L1042.0 684.5L1043.0 684.5L1044.0 684.4L1045.0 684.4L1046.0 684.5L1047.0 684.6L1048.0 684.6L1049.0 684.5L1050.0 684.5L1051.0 684.5L1052.0 684.6L1053.0 684.5L1054.0 684.5L1055.0 684.5L1056.0 684.5L1057.0 684.5L1058.0 684.5L1059.0 684.5L1060.0 684.5L1061.0 684.5L1062.0 684.5L1063.0 684.5L1064.0 684.4L1065.0 684.4L1066.0 684.4L1067.0 684.4L1068.0 684.5L1069.0 684.5L1070.0 684.5L1071.0 684.4L1072.0 684.5L1073.0 684.5L1074.0 684.5L1075.0 684.5L1076.0 684.5L1077.0 684.5L1078.0 684.5L1079.0 684.5L1080.0 684.6L1081.0 684.6L1082.0 684.6L1083.0 684.6L1084.0 684.5L1085.0 684.5L1086.0 684.5L1087.0 684.5L1088.0 684.5L1089.0 684.5L1090.0 684.4L1091.0 684.5L1092.0 684.5L1093.0 684.5L1094.0 684.5L1095.0 684.5L1096.0 684.5L1097.0 684.5L1098.0 684.4" fill="none" stroke="#3a3a3a" stroke-width="0.8"/>
<rect x="79.3" y="682.3" width="5.6" height="4.2" fill="#000"/>
<rect x="119.5" y="681.6" width="6.3" height="4.3" fill="#000"/>
<g fill="#000"><text x="63.88" y="502.50" font-size="23.70" textLength="41.01" lengthAdjust="spacingAndGlyphs">TFA</text><text x="274.87" y="62.70" font-size="23.70" textLength="66.92" lengthAdjust="spacingAndGlyphs">PFPrA</text><text x="348.63" y="360.80" font-size="23.70" textLength="57.69" lengthAdjust="spacingAndGlyphs">PFBA</text><text x="431.79" y="440.80" font-size="23.70" textLength="69.81" lengthAdjust="spacingAndGlyphs">PFPeA</text><text x="495.21" y="462.80" font-size="23.70" textLength="71.49" lengthAdjust="spacingAndGlyphs">PFHxA</text><text x="562.34" y="422.10" font-size="23.70" textLength="75.51" lengthAdjust="spacingAndGlyphs">PFHpA</text><text x="630.02" y="459.30" font-size="23.70" textLength="60.03" lengthAdjust="spacingAndGlyphs">PFOA</text><text x="686.63" y="489.00" font-size="23.70" textLength="60.47" lengthAdjust="spacingAndGlyphs">PFNA</text><text x="761.81" y="489.00" font-size="23.70" textLength="57.96" lengthAdjust="spacingAndGlyphs">PFDA</text><text x="793.51" y="424.20" font-size="23.70" textLength="74.91" lengthAdjust="spacingAndGlyphs">PFUnA</text><text x="863.61" y="467.00" font-size="23.70" textLength="73.19" lengthAdjust="spacingAndGlyphs">PFDoA</text><text x="945.58" y="524.40" font-size="23.70" textLength="64.97" lengthAdjust="spacingAndGlyphs">PFTrA</text><text x="1019.04" y="593.10" font-size="23.70" textLength="53.72" lengthAdjust="spacingAndGlyphs">PFTA</text></g>
<g transform="translate(930 56) scale(0.14335)">
<defs>
<clipPath id="dc"><path d="M290 45 C300 80 355 150 440 245 C500 310 538 370 538 440 A248 248 0 0 1 42 440 C42 370 80 310 140 245 C225 150 280 80 290 45Z"/></clipPath>
<clipPath id="cB"><path d="M560.0 398.0C555.8 396.7 544.2 393.7 535.0 390.0C525.8 386.3 515.8 379.2 505.0 376.0C494.2 372.8 482.5 370.7 470.0 371.0C457.5 371.3 441.7 375.5 430.0 378.0C418.3 380.5 416.7 380.7 400.0 386.0C383.3 391.3 351.7 401.0 330.0 410.0C308.3 419.0 287.5 431.2 270.0 440.0C252.5 448.8 232.5 459.2 225.0 463.0L225.0 463.0C226.7 463.8 225.0 465.5 235.0 468.0C245.0 470.5 269.2 475.7 285.0 478.0C300.8 480.3 310.8 482.0 330.0 482.0C349.2 482.0 376.7 481.7 400.0 478.0C423.3 474.3 450.0 466.7 470.0 460.0C490.0 453.3 505.0 445.5 520.0 438.0C535.0 430.5 553.3 418.8 560.0 415.0Z"/></clipPath>
<clipPath id="cC"><path d="M20.0 415.0C23.3 416.2 26.7 418.5 40.0 422.0C53.3 425.5 81.7 431.3 100.0 436.0C118.3 440.7 133.3 445.7 150.0 450.0C166.7 454.3 185.8 459.0 200.0 462.0C214.2 465.0 220.8 465.3 235.0 468.0C249.2 470.7 269.2 475.7 285.0 478.0C300.8 480.3 310.8 482.0 330.0 482.0C349.2 482.0 376.7 481.7 400.0 478.0C423.3 474.3 450.0 466.7 470.0 460.0C490.0 453.3 505.0 445.5 520.0 438.0C535.0 430.5 553.3 418.8 560.0 415.0L560 720L20 720Z"/></clipPath>
<clipPath id="cA"><path d="M20.0 395.0C24.2 393.8 34.2 390.8 45.0 388.0C55.8 385.2 70.8 377.0 85.0 378.0C99.2 379.0 114.2 385.5 130.0 394.0C145.8 402.5 162.2 416.7 180.0 429.0C197.8 441.3 227.5 461.5 237.0 468.0L237.0 468.0C230.8 467.0 214.5 465.0 200.0 462.0C185.5 459.0 166.7 454.3 150.0 450.0C133.3 445.7 118.3 440.7 100.0 436.0C81.7 431.3 53.3 425.5 40.0 422.0C26.7 418.5 23.3 416.2 20.0 415.0Z"/></clipPath>
<path id="fish" transform="translate(125.57 209.28) scale(0.5775)" d="M185.0 135.0C191.7 127.5 197.5 115.8 210.0 110.0C222.5 104.2 245.3 100.3 260.0 100.0C274.7 99.7 284.7 108.2 298.0 108.0C311.3 107.8 323.0 101.8 340.0 99.0C357.0 96.2 381.7 91.7 400.0 91.0C418.3 90.3 438.3 91.8 450.0 95.0C461.7 98.2 467.0 105.0 470.0 110.0C473.0 115.0 470.5 118.7 468.0 125.0C465.5 131.3 453.0 143.5 455.0 148.0C457.0 152.5 471.3 151.8 480.0 152.0C488.7 152.2 504.5 144.7 507.0 149.0C509.5 153.3 502.8 165.8 495.0 178.0C487.2 190.2 474.2 207.3 460.0 222.0C445.8 236.7 426.3 253.3 410.0 266.0C393.7 278.7 373.7 289.3 362.0 298.0C350.3 306.7 349.5 308.8 340.0 318.0C330.5 327.2 312.0 351.3 305.0 353.0C298.0 354.7 301.8 331.5 298.0 328.0C294.2 324.5 290.0 326.3 282.0 332.0C274.0 337.7 259.0 351.5 250.0 362.0C241.0 372.5 229.7 387.0 228.0 395.0C226.3 403.0 228.0 407.7 240.0 410.0C252.0 412.3 282.5 408.7 300.0 409.0C317.5 409.3 332.3 409.2 345.0 412.0C357.7 414.8 372.5 420.7 376.0 426.0C379.5 431.3 373.7 437.8 366.0 444.0C358.3 450.2 341.8 457.3 330.0 463.0C318.2 468.7 304.7 473.2 295.0 478.0C285.3 482.8 276.5 483.3 272.0 492.0C267.5 500.7 269.0 513.7 268.0 530.0C267.0 546.3 268.0 573.3 266.0 590.0C264.0 606.7 259.7 622.0 256.0 630.0C252.3 638.0 248.2 640.0 244.0 638.0C239.8 636.0 236.0 631.0 231.0 618.0C226.0 605.0 220.0 579.7 214.0 560.0C208.0 540.3 201.5 518.0 195.0 500.0C188.5 482.0 181.2 465.3 175.0 452.0C168.8 438.7 163.8 429.5 158.0 420.0C152.2 410.5 144.7 404.7 140.0 395.0C135.3 385.3 132.3 372.5 130.0 362.0C127.7 351.5 131.0 338.0 126.0 332.0C121.0 326.0 107.7 330.3 100.0 326.0C92.3 321.7 84.2 313.0 80.0 306.0C75.8 299.0 73.7 293.3 75.0 284.0C76.3 274.7 82.2 259.7 88.0 250.0C93.8 240.3 102.2 232.5 110.0 226.0C117.8 219.5 127.3 214.7 135.0 211.0C142.7 207.3 151.8 209.2 156.0 204.0C160.2 198.8 157.7 188.2 160.0 180.0C162.3 171.8 165.8 162.5 170.0 155.0C174.2 147.5 178.3 142.5 185.0 135.0Z"/>
</defs>
<g clip-path="url(#dc)">
<rect x="30" y="30" width="520" height="670" fill="#69c8e8"/>
<circle cx="268" cy="192" r="23" fill="#b6dff3"/><circle cx="316" cy="170" r="9" fill="#b6dff3"/><circle cx="325" cy="213" r="13.5" fill="#b6dff3"/>
<path d="M20.0 395.0C24.2 393.8 34.2 390.8 45.0 388.0C55.8 385.2 70.8 377.0 85.0 378.0C99.2 379.0 114.2 385.5 130.0 394.0C145.8 402.5 162.2 416.7 180.0 429.0C197.8 441.3 227.5 461.5 237.0 468.0L237.0 468.0C230.8 467.0 214.5 465.0 200.0 462.0C185.5 459.0 166.7 454.3 150.0 450.0C133.3 445.7 118.3 440.7 100.0 436.0C81.7 431.3 53.3 425.5 40.0 422.0C26.7 418.5 23.3 416.2 20.0 415.0Z" fill="#9fdaf1"/>
<path d="M560.0 398.0C555.8 396.7 544.2 393.7 535.0 390.0C525.8 386.3 515.8 379.2 505.0 376.0C494.2 372.8 482.5 370.7 470.0 371.0C457.5 371.3 441.7 375.5 430.0 378.0C418.3 380.5 416.7 380.7 400.0 386.0C383.3 391.3 351.7 401.0 330.0 410.0C308.3 419.0 287.5 431.2 270.0 440.0C252.5 448.8 232.5 459.2 225.0 463.0L225.0 463.0C226.7 463.8 225.0 465.5 235.0 468.0C245.0 470.5 269.2 475.7 285.0 478.0C300.8 480.3 310.8 482.0 330.0 482.0C349.2 482.0 376.7 481.7 400.0 478.0C423.3 474.3 450.0 466.7 470.0 460.0C490.0 453.3 505.0 445.5 520.0 438.0C535.0 430.5 553.3 418.8 560.0 415.0Z" fill="#40b7ea"/>
<path d="M20.0 415.0C23.3 416.2 26.7 418.5 40.0 422.0C53.3 425.5 81.7 431.3 100.0 436.0C118.3 440.7 133.3 445.7 150.0 450.0C166.7 454.3 185.8 459.0 200.0 462.0C214.2 465.0 220.8 465.3 235.0 468.0C249.2 470.7 269.2 475.7 285.0 478.0C300.8 480.3 310.8 482.0 330.0 482.0C349.2 482.0 376.7 481.7 400.0 478.0C423.3 474.3 450.0 466.7 470.0 460.0C490.0 453.3 505.0 445.5 520.0 438.0C535.0 430.5 553.3 418.8 560.0 415.0L560 720L20 720Z" fill="#6bc2ef"/>
<use href="#fish" fill="#01878b"/>
<g clip-path="url(#cA)"><use href="#fish" fill="#66bdb9"/></g>
<g clip-path="url(#cB)"><use href="#fish" fill="#1a88be"/></g>
<g clip-path="url(#cC)"><use href="#fish" fill="#28a4d8"/></g>
<path d="M20.0 405.0C23.3 407.2 26.7 409.7 40.0 418.0C53.3 426.3 81.7 441.3 100.0 455.0C118.3 468.7 130.8 482.5 150.0 500.0C169.2 517.5 191.7 544.7 215.0 560.0C238.3 575.3 264.2 590.3 290.0 592.0C315.8 593.7 343.3 583.7 370.0 570.0C396.7 556.3 421.7 535.0 450.0 510.0C478.3 485.0 521.7 438.3 540.0 420.0C558.3 401.7 556.7 403.3 560.0 400.0L560 720L20 720Z" fill="#6a96d0"/>
</g>
</g>
<g fill="#404040" font-size="19.4" stroke="#404040" stroke-width="0.25">
<text transform="translate(1014.4 112.85) rotate(0.02) scale(0.92 1)" textLength="53.4" lengthAdjust="spacing">PFAS</text>
<text transform="translate(1014.4 138.3) rotate(0.02) scale(0.92 1)" textLength="96.4" lengthAdjust="spacing">Solutions</text>
</g>

</svg></body></html>
